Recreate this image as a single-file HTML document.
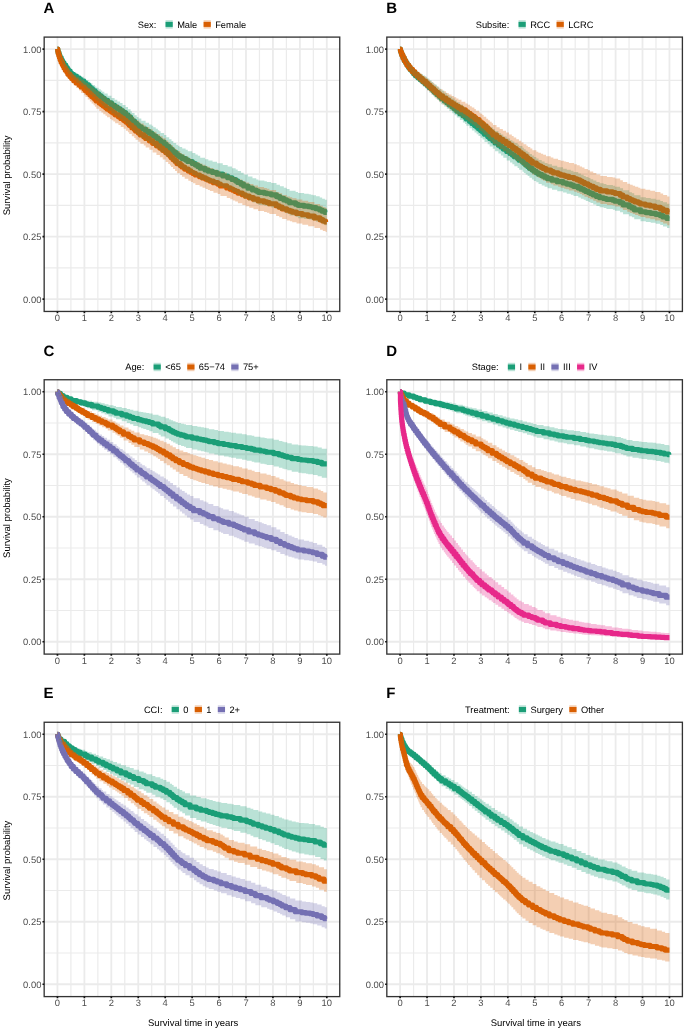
<!DOCTYPE html>
<html><head><meta charset="utf-8"><title>Kaplan-Meier survival curves</title>
<style>html,body{margin:0;padding:0;background:#fff;}svg{display:block;}text{font-family:"Liberation Sans",sans-serif;-webkit-font-smoothing:antialiased;text-rendering:geometricPrecision;}svg{will-change:transform;}</style></head><body>
<svg width="685" height="1031" viewBox="0 0 685 1031">
<rect x="0" y="0" width="685" height="1031" fill="#fff"/>
<g>
<clipPath id="clipA"><rect x="43.98" y="36.60" width="296.28" height="275.00"/></clipPath>
<path d="M70.92,36.60V311.60M97.85,36.60V311.60M124.79,36.60V311.60M151.72,36.60V311.60M178.66,36.60V311.60M205.59,36.60V311.60M232.53,36.60V311.60M259.46,36.60V311.60M286.40,36.60V311.60M313.33,36.60V311.60M43.98,267.85H340.27M43.98,205.35H340.27M43.98,142.85H340.27M43.98,80.35H340.27" stroke="#EBEBEB" stroke-width="1.2" fill="none"/>
<path d="M57.45,36.60V311.60M84.39,36.60V311.60M111.32,36.60V311.60M138.25,36.60V311.60M165.19,36.60V311.60M192.12,36.60V311.60M219.06,36.60V311.60M246.00,36.60V311.60M272.93,36.60V311.60M299.87,36.60V311.60M326.80,36.60V311.60M43.98,299.10H340.27M43.98,236.60H340.27M43.98,174.10H340.27M43.98,111.60H340.27M43.98,49.10H340.27" stroke="#EBEBEB" stroke-width="1.8" fill="none"/>
<g clip-path="url(#clipA)">
<path d="M57.45,49.10H57.77V50.69H58.15V52.54H59.01V54.55H59.60V55.84H60.04V57.61H61.17V59.59H61.98V61.10H62.78V62.81H63.97V65.17H65.80V67.61H67.31V69.36H68.39V71.14H70.22V72.72H71.35V74.21H73.50V76.19H76.41V78.16H79.32V79.62H80.94V81.15H83.90V82.98H85.84V84.90H88.53V86.81H90.26V88.52H92.41V90.57H94.89V92.24H96.29V93.80H98.66V95.56H100.76V96.93H102.22V98.27H104.32V100.28H107.66V102.86H111.48V105.28H114.61V107.15H117.30V108.89H120.10V110.59H122.52V112.52H125.54V114.78H128.02V117.18H130.61V119.09H131.84V121.07H134.54V123.41H136.75V125.10H138.47V126.78H141.33V129.04H145.58V131.30H148.98V133.17H151.67V134.61H153.23V136.07H155.76V137.79H157.86V139.13H159.26V140.22H160.66V142.12H164.11V144.37H166.32V146.52H169.23V148.83H171.49V150.67H173.32V152.69H176.18V154.51H177.96V155.67H179.57V156.93H182.16V158.55H185.61V159.93H187.76V161.54H192.29V163.51H195.36V165.03H197.78V166.39H200.21V168.29H205.05V170.02H208.34V171.25H212.54V172.53H217.07V174.14H222.78V175.98H227.68V177.73H232.04V179.46H235.65V180.94H237.70V182.48H241.04V184.18H243.62V186.02H248.04V188.15H252.46V190.02H256.23V191.17H258.39V192.33H264.36V193.13H266.84V193.72H271.21V194.87H276.49V196.61H279.93V198.35H283.81V199.88H286.67V201.02H289.52V202.78H295.61V204.28H298.09V205.36H304.12V206.18H308.70V206.66H310.85V207.03H312.85V207.63H316.03V208.73H319.69V209.98H322.17V211.18H324.86V212.34H326.80" stroke="#1B9E77" stroke-width="5.15" fill="none" stroke-linejoin="round" stroke-linecap="butt"/>
<path d="M57.45,49.10H57.77V51.16H58.15V53.14H58.80V55.46H59.44V57.61H60.14V59.86H61.11V62.37H62.30V64.46H63.16V65.92H63.86V67.79H65.32V70.29H66.98V72.20H67.90V74.17H69.89V76.45H71.67V78.51H73.77V80.66H76.20V82.98H79.16V84.98H81.10V87.02H84.06V88.94H85.46V90.68H87.78V92.79H89.88V94.66H91.66V96.43H93.60V97.94H94.89V99.16H96.29V101.03H99.25V103.09H101.41V104.61H103.24V106.11H105.45V107.50H107.06V109.09H109.92V110.68H111.54V111.88H113.31V113.11H115.14V114.80H118.43V116.65H120.75V118.43H123.60V120.33H125.92V122.08H127.91V123.54H129.26V125.33H131.84V127.64H134.27V129.32H135.56V131.09H138.42V132.97H140.41V134.89H143.80V136.67H145.69V138.50H149.35V140.84H152.64V143.32H156.46V145.83H159.86V148.08H162.71V150.30H165.67V152.61H168.21V154.60H169.93V155.98H171.01V157.51H173.00V159.51H175.05V161.36H176.93V163.56H180.27V165.44H182.00V166.99H184.69V169.06H188.30V170.91H190.83V172.23H192.99V173.44H195.41V175.04H199.61V176.64H202.52V177.92H205.54V179.06H207.80V179.98H209.90V181.12H213.40V182.68H217.66V184.09H220.41V185.93H226.76V187.93H230.26V189.18H232.80V190.24H235.22V191.41H237.91V193.05H242.33V194.74H245.46V196.14H249.28V197.64H253.43V199.17H258.06V200.80H264.04V201.89H266.90V202.52H269.37V203.79H276.11V205.75H279.23V207.16H282.14V208.84H286.72V210.26H289.95V211.14H292.22V212.12H296.53V213.49H302.34V214.77H308.16V216.05H314.41V217.92H320.07V219.69H322.81V221.01H325.56V222.02H326.80" stroke="#D95F02" stroke-width="5.15" fill="none" stroke-linejoin="round" stroke-linecap="butt"/>
<path d="M57.45,49.10H57.77V50.58H58.15V52.28H59.01V54.14H59.60V55.32H60.04V56.91H61.17V58.67H61.98V60.00H62.78V61.49H63.97V63.51H65.80V65.58H67.31V67.03H68.39V68.49H70.22V69.73H71.35V71.02H73.50V72.72H76.41V74.36H79.32V75.55H80.94V76.83H83.90V78.38H85.84V80.03H88.53V81.69H90.26V83.18H92.41V84.96H94.89V86.41H96.29V87.75H98.66V89.33H100.76V90.56H102.22V91.77H104.32V93.57H107.66V95.87H111.48V98.08H114.61V99.84H117.30V101.47H120.10V103.08H122.52V104.90H125.54V107.04H128.02V109.35H130.61V111.19H131.84V113.08H134.54V115.33H136.75V116.94H138.47V118.53H141.33V120.65H145.58V122.75H148.98V124.50H151.67V125.85H153.23V127.24H155.76V128.86H157.86V130.13H159.26V131.16H160.66V132.97H164.11V135.10H166.32V137.15H169.23V139.35H171.49V141.11H173.32V143.03H176.18V144.75H177.96V145.84H179.57V147.02H182.16V148.52H185.61V149.78H187.76V151.25H192.29V153.09H195.36V154.56H197.78V155.86H200.21V157.69H205.05V159.33H208.34V160.48H212.54V161.67H217.07V163.17H222.78V164.90H227.68V166.54H232.04V168.19H235.65V169.60H237.70V171.08H241.04V172.71H243.62V174.47H248.04V176.55H252.46V178.36H256.23V179.48H258.39V180.58H264.36V181.33H266.84V181.89H271.21V182.98H276.49V184.67H279.93V186.35H283.81V187.84H286.67V188.94H289.52V190.64H295.61V192.09H298.09V193.11H304.12V193.87H308.70V194.31H310.85V194.65H312.85V195.22H316.03V196.28H319.69V197.48H322.17V198.64H324.86V199.77H326.80V225.35H324.86V224.17H322.17V222.96H319.69V221.70H316.03V220.58H312.85V219.96H310.85V219.58H308.70V219.07H304.12V218.20H298.09V217.10H295.61V215.57H289.52V213.77H286.67V212.62H283.81V211.07H279.93V209.31H276.49V207.54H271.21V206.35H266.84V205.73H264.36V204.89H258.39V203.71H256.23V202.54H252.46V200.64H248.04V198.48H243.62V196.57H241.04V194.82H237.70V193.25H235.65V191.72H232.04V189.91H227.68V188.08H222.78V186.15H217.07V184.43H212.54V183.08H208.34V181.77H205.05V179.97H200.21V178.00H197.78V176.60H195.36V175.02H192.29V172.95H187.76V171.21H185.61V169.72H182.16V167.98H179.57V166.63H177.96V165.40H176.18V163.50H173.32V161.38H171.49V159.47H169.23V157.06H166.32V154.80H164.11V152.44H160.66V150.44H159.26V149.30H157.86V147.89H155.76V146.07H153.23V144.53H151.67V143.00H148.98V141.01H145.58V138.60H141.33V136.19H138.47V134.41H136.75V132.65H134.54V130.20H131.84V128.15H130.61V126.15H128.02V123.64H125.54V121.28H122.52V119.23H120.10V117.42H117.30V115.57H114.61V113.57H111.48V110.94H107.66V108.05H104.32V105.81H102.22V104.31H100.76V102.79H98.66V100.83H96.29V99.02H94.89V97.10H92.41V94.76H90.26V92.79H88.53V90.59H85.84V88.38H83.90V86.23H80.94V84.40H79.32V82.64H76.41V80.29H73.50V77.98H71.35V76.26H70.22V74.29H68.39V72.12H67.31V70.04H65.80V67.15H63.97V64.39H62.78V62.41H61.98V60.69H61.17V58.45H60.04V56.48H59.60V55.05H59.01V52.84H58.15V50.83H57.77V49.14H57.45Z" fill="#1B9E77" fill-opacity="0.3" stroke="none"/>
<path d="M57.45,49.10H57.77V50.98H58.15V52.77H58.80V54.86H59.44V56.78H60.14V58.72H61.11V60.85H62.30V62.57H63.16V63.75H63.86V65.23H65.32V67.17H66.98V68.61H67.90V70.05H69.89V71.65H71.67V73.29H73.77V74.97H76.20V76.73H79.16V78.23H81.10V79.76H84.06V81.25H85.46V82.68H87.78V84.43H89.88V85.98H91.66V87.45H93.60V88.69H94.89V89.69H96.29V91.21H99.25V93.13H101.41V94.56H103.24V95.96H105.45V97.26H107.06V98.74H109.92V100.22H111.54V101.37H113.31V102.55H115.14V104.18H118.43V105.97H120.75V107.68H123.60V109.52H125.92V111.21H127.91V112.63H129.26V114.37H131.84V116.62H134.27V118.25H135.56V119.97H138.42V121.78H140.41V123.61H143.80V125.31H145.69V127.05H149.35V129.28H152.64V131.65H156.46V134.05H159.86V136.20H162.71V138.32H165.67V140.54H168.21V142.46H169.93V143.79H171.01V145.27H173.00V147.20H175.05V148.98H176.93V151.10H180.27V152.89H182.00V154.37H184.69V156.33H188.30V158.08H190.83V159.32H192.99V160.49H195.41V162.04H199.61V163.59H202.52V164.83H205.54V165.93H207.80V166.82H209.90V167.92H213.40V169.41H217.66V170.77H220.41V172.55H226.76V174.47H230.26V175.67H232.80V176.70H235.22V177.82H237.91V179.41H242.33V181.03H245.46V182.39H249.28V183.88H253.43V185.40H258.06V187.02H264.04V188.09H266.90V188.72H269.37V189.98H276.11V191.92H279.23V193.31H282.14V194.98H286.72V196.38H289.95V197.25H292.22V198.21H296.53V199.57H302.34V200.83H308.16V202.09H314.41V203.94H320.07V205.68H322.81V206.98H325.56V207.98H326.80V232.06H325.56V231.05H322.81V229.74H320.07V227.99H314.41V226.13H308.16V224.86H302.34V223.59H296.53V222.23H292.22V221.26H289.95V220.39H286.72V218.98H282.14V217.31H279.23V215.90H276.11V213.96H269.37V212.69H266.90V212.07H264.04V210.98H258.06V209.37H253.43V207.84H249.28V206.34H245.46V204.93H242.33V203.23H237.91V201.56H235.22V200.38H232.80V199.30H230.26V198.03H226.76V196.00H220.41V194.12H217.66V192.69H213.40V191.11H209.90V189.94H207.80V189.01H205.54V187.85H202.52V186.55H199.61V184.92H195.41V183.30H192.99V182.08H190.83V180.71H188.30V178.79H184.69V176.66H182.00V175.07H180.27V173.14H176.93V170.89H175.05V169.00H173.00V166.97H171.01V165.41H169.93V164.00H168.21V161.96H165.67V159.60H162.71V157.32H159.86V155.01H156.46V152.42H152.64V149.87H149.35V147.46H145.69V145.57H143.80V143.73H140.41V141.76H138.42V139.83H135.56V138.02H134.27V136.32H131.84V133.96H129.26V132.14H127.91V130.65H125.92V128.87H123.60V126.92H120.75V125.10H118.43V123.20H115.14V121.47H113.31V120.21H111.54V118.97H109.92V117.30H107.06V115.63H105.45V114.18H103.24V112.61H101.41V111.01H99.25V108.86H96.29V106.71H94.89V105.33H93.60V103.62H91.66V101.61H89.88V99.50H87.78V97.12H85.46V95.15H84.06V92.88H81.10V90.45H79.16V88.05H76.20V85.29H73.77V82.77H71.67V80.37H69.89V77.54H67.90V75.15H66.98V72.86H65.32V69.90H63.86V67.71H63.16V66.03H62.30V63.63H61.11V60.80H60.14V58.31H59.44V55.96H58.80V53.44H58.15V51.31H57.77V49.15H57.45Z" fill="#D95F02" fill-opacity="0.3" stroke="none"/>
</g>
<rect x="44.17" y="37.10" width="295.58" height="274.35" fill="none" stroke="#333333" stroke-width="1.33"/>
<path d="M57.45,311.45V313.15M84.39,311.45V313.15M111.32,311.45V313.15M138.25,311.45V313.15M165.19,311.45V313.15M192.12,311.45V313.15M219.06,311.45V313.15M246.00,311.45V313.15M272.93,311.45V313.15M299.87,311.45V313.15M326.80,311.45V313.15M44.17,299.10H42.47M44.17,236.60H42.47M44.17,174.10H42.47M44.17,111.60H42.47M44.17,49.10H42.47" stroke="#111111" stroke-width="1.7" fill="none"/>
<text x="57.45" y="320.85" font-size="9.40" fill="#4D4D4D" text-anchor="middle">0</text>
<text x="84.39" y="320.85" font-size="9.40" fill="#4D4D4D" text-anchor="middle">1</text>
<text x="111.32" y="320.85" font-size="9.40" fill="#4D4D4D" text-anchor="middle">2</text>
<text x="138.25" y="320.85" font-size="9.40" fill="#4D4D4D" text-anchor="middle">3</text>
<text x="165.19" y="320.85" font-size="9.40" fill="#4D4D4D" text-anchor="middle">4</text>
<text x="192.12" y="320.85" font-size="9.40" fill="#4D4D4D" text-anchor="middle">5</text>
<text x="219.06" y="320.85" font-size="9.40" fill="#4D4D4D" text-anchor="middle">6</text>
<text x="246.00" y="320.85" font-size="9.40" fill="#4D4D4D" text-anchor="middle">7</text>
<text x="272.93" y="320.85" font-size="9.40" fill="#4D4D4D" text-anchor="middle">8</text>
<text x="299.87" y="320.85" font-size="9.40" fill="#4D4D4D" text-anchor="middle">9</text>
<text x="326.80" y="320.85" font-size="9.40" fill="#4D4D4D" text-anchor="middle">10</text>
<text x="41.37" y="302.70" font-size="9.40" fill="#4D4D4D" text-anchor="end">0.00</text>
<text x="41.37" y="240.20" font-size="9.40" fill="#4D4D4D" text-anchor="end">0.25</text>
<text x="41.37" y="177.70" font-size="9.40" fill="#4D4D4D" text-anchor="end">0.50</text>
<text x="41.37" y="115.20" font-size="9.40" fill="#4D4D4D" text-anchor="end">0.75</text>
<text x="41.37" y="52.70" font-size="9.40" fill="#4D4D4D" text-anchor="end">1.00</text>
<text x="10.17" y="175.38" font-size="9.50" fill="#000" text-anchor="middle" transform="rotate(-90 10.17 175.38)">Survival probability</text>
<text x="43.50" y="12.90" font-size="15" font-weight="bold" fill="#000">A</text>
<text x="137.72" y="27.60" font-size="9.30" fill="#000">Sex:</text>
<rect x="165.53" y="20.20" width="7.20" height="8.40" fill="#1B9E77" fill-opacity="0.3"/>
<rect x="165.53" y="21.90" width="7.20" height="5.00" fill="#1B9E77"/>
<text x="177.13" y="27.60" font-size="9.30" fill="#000">Male</text>
<rect x="203.59" y="20.20" width="7.20" height="8.40" fill="#D95F02" fill-opacity="0.3"/>
<rect x="203.59" y="21.90" width="7.20" height="5.00" fill="#D95F02"/>
<text x="215.19" y="27.60" font-size="9.30" fill="#000">Female</text>
</g>
<g>
<clipPath id="clipB"><rect x="386.63" y="36.60" width="296.29" height="275.00"/></clipPath>
<path d="M413.57,36.60V311.60M440.50,36.60V311.60M467.44,36.60V311.60M494.37,36.60V311.60M521.31,36.60V311.60M548.24,36.60V311.60M575.18,36.60V311.60M602.11,36.60V311.60M629.05,36.60V311.60M655.98,36.60V311.60M386.63,267.85H682.92M386.63,205.35H682.92M386.63,142.85H682.92M386.63,80.35H682.92" stroke="#EBEBEB" stroke-width="1.2" fill="none"/>
<path d="M400.10,36.60V311.60M427.03,36.60V311.60M453.97,36.60V311.60M480.90,36.60V311.60M507.84,36.60V311.60M534.77,36.60V311.60M561.71,36.60V311.60M588.64,36.60V311.60M615.58,36.60V311.60M642.51,36.60V311.60M669.45,36.60V311.60M386.63,299.10H682.92M386.63,236.60H682.92M386.63,174.10H682.92M386.63,111.60H682.92M386.63,49.10H682.92" stroke="#EBEBEB" stroke-width="1.8" fill="none"/>
<g clip-path="url(#clipB)">
<path d="M400.10,49.10H400.42V50.41H400.69V51.46H401.18V52.77H401.66V54.48H402.52V56.28H403.22V58.19H404.36V60.70H405.86V62.91H406.94V65.06H408.61V67.41H410.17V69.51H411.74V71.07H412.71V72.19H413.68V73.67H415.51V75.75H417.98V77.86H420.36V79.84H422.83V81.68H424.93V83.43H427.03V85.34H429.24V87.38H431.51V89.10H432.96V90.45H434.42V92.29H436.95V94.44H439.16V96.34H441.26V98.49H444.22V100.80H446.86V102.87H449.34V105.03H452.25V107.12H454.51V108.98H456.83V111.16H459.84V113.63H462.91V115.79H465.12V117.22H466.41V119.02H469.48V121.30H471.91V123.42H474.55V125.41H476.65V127.05H478.48V128.70H480.58V130.39H482.52V132.05H484.51V134.25H487.69V136.45H489.69V138.58H492.81V140.76H495.07V142.94H498.41V145.15H500.94V146.96H503.31V149.05H506.71V151.47H509.99V153.47H512.37V154.98H514.36V156.79H517.59V158.47H519.15V160.24H522.49V162.05H523.89V163.34H525.67V164.90H527.66V166.47H529.44V168.18H531.92V169.84H533.86V171.28H536.28V172.71H538.55V174.27H541.72V175.87H544.63V177.23H547.54V178.64H551.96V180.13H557.24V181.65H563.06V183.01H566.72V184.10H570.87V185.10H573.51V186.36H578.25V187.89H580.89V189.14H583.69V190.29H585.74V191.41H588.48V192.47H590.48V193.57H593.22V194.98H596.40V196.41H599.63V197.72H603.67V198.54H606.42V199.37H612.89V200.20H615.04V201.21H620.05V202.79H623.07V204.83H629.16V206.73H631.90V207.88H634.22V209.84H640.52V211.75H645.85V212.60H650.70V213.30H655.71V214.37H660.24V215.59H662.99V216.99H667.03V218.50H669.45" stroke="#1B9E77" stroke-width="5.15" fill="none" stroke-linejoin="round" stroke-linecap="butt"/>
<path d="M400.10,49.10H400.42V50.41H400.69V51.46H401.18V52.91H401.77V55.06H402.90V57.65H404.14V60.21H405.49V61.98H406.13V63.28H407.10V65.27H408.93V67.18H410.12V69.24H412.54V71.68H414.75V74.02H417.28V76.14H419.39V78.07H421.70V79.64H423.10V81.42H425.90V83.39H427.68V85.09H429.73V86.78H431.40V88.61H433.77V90.53H435.65V92.50H438.29V94.15H439.64V95.82H442.60V98.07H445.94V100.14H448.74V101.96H451.60V103.59H453.92V105.03H456.23V106.37H458.44V107.87H461.46V109.86H465.39V111.77H467.71V113.31H470.02V114.72H471.80V116.27H474.33V117.77H475.84V119.59H479.07V121.39H480.37V122.73H482.36V124.16H483.65V125.96H486.24V128.11H488.12V129.83H489.79V131.50H491.68V132.94H493.03V134.91H496.53V137.28H499.71V139.35H502.88V141.36H506.06V143.38H508.97V145.40H511.83V147.08H513.66V148.69H516.24V150.62H518.94V152.48H521.31V154.17H523.52V156.14H526.37V157.86H527.88V159.39H530.30V161.06H532.35V163.10H536.39V164.85H538.33V166.07H540.92V167.30H543.18V168.52H546.03V170.16H550.72V171.59H553.36V172.91H558.10V174.11H560.63V175.06H564.13V175.82H566.13V176.43H568.87V177.47H574.15V178.72H576.90V179.86H579.76V181.06H582.02V182.24H584.50V183.70H587.89V184.98H589.99V186.26H593.28V187.80H596.35V189.37H600.33V190.93H606.96V191.84H612.62V192.49H615.26V193.51H620.21V195.19H622.85V196.97H627.22V198.69H630.12V199.82H632.71V200.83H635.13V201.91H638.26V202.85H640.36V203.95H645.42V205.06H650.27V206.01H655.07V207.41H660.45V208.94H663.15V210.44H667.19V212.01H669.45" stroke="#D95F02" stroke-width="5.15" fill="none" stroke-linejoin="round" stroke-linecap="butt"/>
<path d="M400.10,49.10H400.42V50.27H400.69V51.21H401.18V52.37H401.66V53.88H402.52V55.44H403.22V57.08H404.36V59.19H405.86V61.01H406.94V62.74H408.61V64.60H410.17V66.22H411.74V67.40H412.71V68.22H413.68V69.38H415.51V71.01H417.98V72.63H420.36V74.11H422.83V75.48H424.93V76.79H427.03V78.41H429.24V80.31H431.51V81.91H432.96V83.16H434.42V84.87H436.95V86.87H439.16V88.63H441.26V90.61H444.22V92.73H446.86V94.63H449.34V96.61H452.25V98.53H454.51V100.25H456.83V102.24H459.84V104.51H462.91V106.49H465.12V107.81H466.41V109.46H469.48V111.56H471.91V113.51H474.55V115.33H476.65V116.85H478.48V118.36H480.58V119.90H482.52V121.38H484.51V123.35H487.69V125.31H489.69V127.21H492.81V129.14H495.07V131.06H498.41V133.00H500.94V134.58H503.31V136.41H506.71V138.51H509.99V140.25H512.37V141.56H514.36V143.12H517.59V144.58H519.15V146.11H522.49V147.86H523.89V149.14H525.67V150.70H527.66V152.26H529.44V153.96H531.92V155.61H533.86V157.05H536.28V158.46H538.55V160.01H541.72V161.60H544.63V162.95H547.54V164.36H551.96V165.84H557.24V167.34H563.06V168.69H566.72V169.77H570.87V170.77H573.51V172.01H578.25V173.53H580.89V174.78H583.69V175.92H585.74V177.03H588.48V178.08H590.48V179.17H593.22V180.57H596.40V181.98H599.63V183.28H603.67V184.10H606.42V184.91H612.89V185.73H615.04V186.73H620.05V188.30H623.07V190.32H629.16V192.19H631.90V193.33H634.22V195.26H640.52V197.15H645.85V197.99H650.70V198.68H655.71V199.74H660.24V200.94H662.99V202.32H667.03V203.80H669.45V227.90H667.03V226.41H662.99V225.02H660.24V223.81H655.71V222.74H650.70V222.04H645.85V221.20H640.52V219.30H634.22V217.35H631.90V216.21H629.16V214.32H623.07V212.29H620.05V210.71H615.04V209.71H612.89V208.88H606.42V208.06H603.67V207.24H599.63V205.94H596.40V204.52H593.22V203.11H590.48V202.02H588.48V200.96H585.74V199.85H583.69V198.70H580.89V197.45H578.25V195.93H573.51V194.68H570.87V193.68H566.72V192.59H563.06V191.24H557.24V189.72H551.96V188.24H547.54V186.83H544.63V185.48H541.72V183.88H538.55V182.32H536.28V180.90H533.86V179.46H531.92V177.81H529.44V176.10H527.66V174.54H525.67V172.98H523.89V171.69H522.49V169.86H519.15V167.96H517.59V166.14H514.36V164.18H512.37V162.55H509.99V160.39H506.71V157.78H503.31V155.52H500.94V153.57H498.41V151.19H495.07V148.85H492.81V146.52H489.69V144.23H487.69V141.89H484.51V139.54H482.52V137.77H480.58V135.98H478.48V134.24H476.65V132.51H474.55V130.42H471.91V128.19H469.48V125.79H466.41V123.90H465.12V122.38H462.91V120.11H459.84V117.50H456.83V115.21H454.51V113.24H452.25V111.04H449.34V108.75H446.86V106.57H444.22V104.14H441.26V101.88H439.16V99.88H436.95V97.62H434.42V95.69H432.96V94.28H431.51V92.48H429.24V90.33H427.03V88.22H424.93V86.17H422.83V83.99H420.36V81.66H417.98V79.19H415.51V76.80H413.68V75.08H412.71V73.76H411.74V71.91H410.17V69.47H408.61V66.76H406.94V64.31H405.86V61.81H404.36V59.01H403.22V56.89H402.52V54.92H401.66V53.06H401.18V51.65H400.69V50.51H400.42V49.14H400.10Z" fill="#1B9E77" fill-opacity="0.3" stroke="none"/>
<path d="M400.10,49.10H400.42V50.29H400.69V51.24H401.18V52.55H401.77V54.48H402.90V56.76H404.14V58.98H405.49V60.49H406.13V61.58H407.10V63.20H408.93V64.72H410.12V66.30H412.54V68.14H414.75V70.13H417.28V71.90H419.39V73.48H421.70V74.78H423.10V76.23H425.90V77.85H427.68V79.39H429.73V80.93H431.40V82.62H433.77V84.37H435.65V86.17H438.29V87.66H439.64V89.16H442.60V91.18H445.94V93.00H448.74V94.61H451.60V96.04H453.92V97.32H456.23V98.53H458.44V99.87H461.46V101.67H465.39V103.39H467.71V104.81H470.02V106.15H471.80V107.61H474.33V109.03H475.84V110.76H479.07V112.47H480.37V113.73H482.36V115.05H483.65V116.72H486.24V118.72H488.12V120.32H489.79V121.87H491.68V123.21H493.03V125.01H496.53V127.16H499.71V129.01H502.88V130.82H506.06V132.62H508.97V134.45H511.83V135.97H513.66V137.43H516.24V139.18H518.94V140.87H521.31V142.39H523.52V144.14H526.37V145.68H527.88V147.05H530.30V148.53H532.35V150.32H536.39V151.81H538.33V152.84H540.92V153.87H543.18V154.87H546.03V156.20H550.72V157.55H553.36V158.78H558.10V159.90H560.63V160.78H564.13V161.48H566.13V162.03H568.87V162.99H574.15V164.16H576.90V165.27H579.76V166.44H582.02V167.60H584.50V169.03H587.89V170.29H589.99V171.53H593.28V173.05H596.35V174.58H600.33V176.10H606.96V176.96H612.62V177.58H615.26V178.57H620.21V180.20H622.85V181.95H627.22V183.63H630.12V184.73H632.71V185.71H635.13V186.77H638.26V187.68H640.36V188.74H645.42V189.80H650.27V190.72H655.07V192.06H660.45V193.55H663.15V195.01H667.19V196.53H669.45V225.15H667.19V223.59H663.15V222.08H660.45V220.55H655.07V219.15H650.27V218.18H645.42V217.07H640.36V215.96H638.26V215.02H635.13V213.93H632.71V212.92H630.12V211.79H627.22V210.07H622.85V208.28H620.21V206.60H615.26V205.57H612.62V204.91H606.96V203.98H600.33V202.40H596.35V200.83H593.28V199.28H589.99V198.00H587.89V196.72H584.50V195.25H582.02V194.06H579.76V192.86H576.90V191.72H574.15V190.41H568.87V189.31H566.13V188.66H564.13V187.86H560.63V186.87H558.10V185.61H553.36V184.24H550.72V182.75H546.03V180.87H543.18V179.49H540.92V178.10H538.33V176.73H536.39V174.79H532.35V172.55H530.30V170.73H527.88V169.07H526.37V167.20H523.52V165.07H521.31V163.24H518.94V161.24H516.24V159.16H513.66V157.43H511.83V155.62H508.97V153.43H506.06V151.25H502.88V149.05H499.71V146.80H496.53V144.24H493.03V142.14H491.68V140.60H489.79V138.83H488.12V137.01H486.24V134.73H483.65V132.82H482.36V131.29H480.37V129.88H479.07V128.01H475.84V126.11H474.33V124.54H471.80V122.91H470.02V121.43H467.71V119.80H465.39V117.72H461.46V115.54H458.44V113.91H456.23V112.45H453.92V110.86H451.60V109.04H448.74V107.02H445.94V104.74H442.60V102.26H439.64V100.44H438.29V98.64H435.65V96.51H433.77V94.44H431.40V92.46H429.73V90.64H427.68V88.78H425.90V86.48H423.10V84.40H421.70V82.56H419.39V80.31H417.28V77.85H414.75V75.17H412.54V72.14H410.12V69.62H408.93V67.31H407.10V64.97H406.13V63.46H405.49V61.43H404.14V58.54H402.90V55.64H401.77V53.27H401.18V51.68H400.69V50.53H400.42V49.14H400.10Z" fill="#D95F02" fill-opacity="0.3" stroke="none"/>
</g>
<rect x="386.82" y="37.10" width="295.58" height="274.35" fill="none" stroke="#333333" stroke-width="1.33"/>
<path d="M400.10,311.45V313.15M427.03,311.45V313.15M453.97,311.45V313.15M480.90,311.45V313.15M507.84,311.45V313.15M534.77,311.45V313.15M561.71,311.45V313.15M588.64,311.45V313.15M615.58,311.45V313.15M642.51,311.45V313.15M669.45,311.45V313.15M386.82,299.10H385.12M386.82,236.60H385.12M386.82,174.10H385.12M386.82,111.60H385.12M386.82,49.10H385.12" stroke="#111111" stroke-width="1.7" fill="none"/>
<text x="400.10" y="320.85" font-size="9.40" fill="#4D4D4D" text-anchor="middle">0</text>
<text x="427.03" y="320.85" font-size="9.40" fill="#4D4D4D" text-anchor="middle">1</text>
<text x="453.97" y="320.85" font-size="9.40" fill="#4D4D4D" text-anchor="middle">2</text>
<text x="480.90" y="320.85" font-size="9.40" fill="#4D4D4D" text-anchor="middle">3</text>
<text x="507.84" y="320.85" font-size="9.40" fill="#4D4D4D" text-anchor="middle">4</text>
<text x="534.77" y="320.85" font-size="9.40" fill="#4D4D4D" text-anchor="middle">5</text>
<text x="561.71" y="320.85" font-size="9.40" fill="#4D4D4D" text-anchor="middle">6</text>
<text x="588.64" y="320.85" font-size="9.40" fill="#4D4D4D" text-anchor="middle">7</text>
<text x="615.58" y="320.85" font-size="9.40" fill="#4D4D4D" text-anchor="middle">8</text>
<text x="642.51" y="320.85" font-size="9.40" fill="#4D4D4D" text-anchor="middle">9</text>
<text x="669.45" y="320.85" font-size="9.40" fill="#4D4D4D" text-anchor="middle">10</text>
<text x="384.02" y="302.70" font-size="9.40" fill="#4D4D4D" text-anchor="end">0.00</text>
<text x="384.02" y="240.20" font-size="9.40" fill="#4D4D4D" text-anchor="end">0.25</text>
<text x="384.02" y="177.70" font-size="9.40" fill="#4D4D4D" text-anchor="end">0.50</text>
<text x="384.02" y="115.20" font-size="9.40" fill="#4D4D4D" text-anchor="end">0.75</text>
<text x="384.02" y="52.70" font-size="9.40" fill="#4D4D4D" text-anchor="end">1.00</text>
<text x="386.20" y="12.90" font-size="15" font-weight="bold" fill="#000">B</text>
<text x="475.72" y="27.60" font-size="9.30" fill="#000">Subsite:</text>
<rect x="518.53" y="20.20" width="7.20" height="8.40" fill="#1B9E77" fill-opacity="0.3"/>
<rect x="518.53" y="21.90" width="7.20" height="5.00" fill="#1B9E77"/>
<text x="530.13" y="27.60" font-size="9.30" fill="#000">RCC</text>
<rect x="556.58" y="20.20" width="7.20" height="8.40" fill="#D95F02" fill-opacity="0.3"/>
<rect x="556.58" y="21.90" width="7.20" height="5.00" fill="#D95F02"/>
<text x="568.18" y="27.60" font-size="9.30" fill="#000">LCRC</text>
</g>
<g>
<clipPath id="clipC"><rect x="43.98" y="379.25" width="296.28" height="275.00"/></clipPath>
<path d="M70.92,379.25V654.25M97.85,379.25V654.25M124.79,379.25V654.25M151.72,379.25V654.25M178.66,379.25V654.25M205.59,379.25V654.25M232.53,379.25V654.25M259.46,379.25V654.25M286.40,379.25V654.25M313.33,379.25V654.25M43.98,610.50H340.27M43.98,548.00H340.27M43.98,485.50H340.27M43.98,423.00H340.27" stroke="#EBEBEB" stroke-width="1.2" fill="none"/>
<path d="M57.45,379.25V654.25M84.39,379.25V654.25M111.32,379.25V654.25M138.25,379.25V654.25M165.19,379.25V654.25M192.12,379.25V654.25M219.06,379.25V654.25M246.00,379.25V654.25M272.93,379.25V654.25M299.87,379.25V654.25M326.80,379.25V654.25M43.98,641.75H340.27M43.98,579.25H340.27M43.98,516.75H340.27M43.98,454.25H340.27M43.98,391.75H340.27" stroke="#EBEBEB" stroke-width="1.8" fill="none"/>
<g clip-path="url(#clipC)">
<path d="M57.45,391.75H57.77V393.40H60.47V395.46H63.32V397.26H67.15V398.87H71.13V400.45H76.68V401.79H80.88V402.87H85.03V403.71H87.24V404.60H92.03V405.98H98.07V407.27H101.19V408.30H104.64V409.48H108.46V410.90H113.53V412.04H116.01V413.24H121.77V414.84H126.78V416.15H130.07V417.21H133.30V418.52H138.31V419.64H141.00V420.28H143.32V420.92H146.28V421.65H149.24V422.52H152.64V424.03H158.56V425.52H160.72V426.89H165.46V428.67H169.07V430.04H171.01V431.08H173.11V432.20H175.53V433.25H177.80V434.26H181.08V435.18H184.04V435.83H185.98V436.80H192.18V438.08H197.35V438.95H200.91V439.60H203.92V440.16H206.45V440.71H208.88V441.62H214.37V442.66H217.98V443.60H223.96V444.50H228.65V445.06H231.07V445.67H235.98V446.56H242.06V447.45H246.64V448.37H251.71V449.18H254.29V450.09H260.38V451.01H264.58V451.50H266.68V452.22H273.58V453.56H278.91V454.86H282.41V455.68H284.35V456.35H287.26V457.28H291.73V458.59H298.25V459.51H301.59V459.98H306.06V460.28H308.21V460.64H313.12V461.37H317.64V462.43H321.79V463.87H326.80" stroke="#1B9E77" stroke-width="5.15" fill="none" stroke-linejoin="round" stroke-linecap="butt"/>
<path d="M57.45,391.75H57.77V392.64H58.31V393.92H59.55V395.86H61.33V397.96H63.27V399.82H65.26V401.62H68.17V403.46H71.13V405.10H73.34V406.69H76.14V408.13H77.92V409.20H79.64V410.58H82.50V412.20H85.19V413.62H87.62V415.45H92.03V417.51H95.64V419.18H98.77V420.71H102.05V422.25H105.61V423.54H107.82V425.17H112.51V427.19H115.47V428.61H117.41V429.91H119.83V431.74H123.55V434.18H128.50V436.30H131.31V437.84H134.27V439.92H139.71V442.02H144.29V443.53H148.01V444.71H150.54V445.84H153.28V447.13H155.92V448.32H157.86V449.47H160.13V451.11H163.68V452.98H166.64V454.91H170.04V456.85H172.68V458.72H175.86V460.69H179.36V462.59H183.29V464.51H187.55V465.93H189.92V467.05H193.26V468.20H196.38V469.04H198.37V469.81H201.39V470.84H205.32V471.94H208.88V473.07H213.13V474.32H217.93V475.56H222.62V476.62H226.71V477.57H230.64V478.34H233.12V479.38H238.94V480.54H242.17V481.72H247.77V483.10H251.81V484.15H254.61V485.42H260.22V487.01H266.57V488.32H270.88V489.59H275.57V491.17H279.45V492.84H283.60V494.10H285.64V495.37H290.65V496.83H294.05V497.97H297.76V498.95H301.53V499.74H306.54V500.58H313.22V501.87H318.07V503.16H320.71V504.23H323.24V505.63H326.80" stroke="#D95F02" stroke-width="5.15" fill="none" stroke-linejoin="round" stroke-linecap="butt"/>
<path d="M57.45,391.75H57.77V393.02H58.04V394.19H58.64V395.61H59.12V397.46H60.09V399.26H60.63V400.71H61.33V402.76H62.41V404.50H62.94V406.55H64.56V409.06H66.34V411.54H68.65V414.09H71.29V416.37H73.50V418.48H76.36V420.34H78.35V422.10H81.10V423.89H83.09V425.34H84.71V427.23H87.46V429.44H89.50V431.50H91.82V433.18H93.06V435.05H95.86V436.87H97.15V438.28H99.25V440.16H101.95V441.97H104.16V443.81H107.06V445.97H110.13V448.31H113.31V450.86H116.65V452.81H118.22V454.22H120.15V456.05H122.74V457.68H124.19V458.84H125.60V460.67H128.67V462.58H130.17V464.13H132.38V466.01H134.70V467.82H136.85V470.01H140.36V471.97H142.19V473.57H144.88V475.09H146.55V476.96H150.32V479.00H152.42V480.53H154.69V481.90H156.36V483.06H158.03V484.41H160.23V486.46H163.84V488.47H165.78V490.03H167.99V491.76H170.20V493.76H173.00V496.25H176.45V498.87H179.84V500.94H182.05V502.75H184.69V504.56H187.06V506.41H190.13V508.33H193.47V510.64H199.88V512.66H203.49V513.99H206.45V515.04H208.39V516.57H213.35V518.78H218.63V520.28H221.00V521.07H223.15V522.34H228.81V524.08H233.87V525.53H236.73V526.59H239.26V527.52H241.42V528.51H244.22V529.93H248.74V531.94H254.72V533.73H258.39V534.97H261.83V535.82H263.83V536.53H266.63V537.64H271.21V539.34H276.38V541.44H280.31V543.50H284.62V545.29H288.39V546.65H291.73V547.73H294.42V548.73H297.82V549.99H304.07V550.97H309.13V551.73H312.90V552.72H317.10V554.41H322.33V556.17H324.97V557.28H326.80" stroke="#7570B3" stroke-width="5.15" fill="none" stroke-linejoin="round" stroke-linecap="butt"/>
<path d="M57.45,391.75H57.77V393.15H60.47V394.80H63.32V396.10H67.15V397.13H71.13V398.16H76.68V399.04H80.88V399.73H85.03V400.27H87.24V400.83H92.03V401.70H98.07V402.58H101.19V403.34H104.64V404.22H108.46V405.28H113.53V406.10H116.01V406.97H121.77V408.12H126.78V409.08H130.07V409.87H133.30V410.84H138.31V411.63H141.00V412.05H143.32V412.46H146.28V412.94H149.24V413.53H152.64V414.63H158.56V415.77H160.72V416.84H165.46V418.29H169.07V419.47H171.01V420.37H173.11V421.33H175.53V422.22H177.80V423.04H181.08V423.75H184.04V424.23H185.98V424.92H192.18V425.93H197.35V426.72H200.91V427.30H203.92V427.81H206.45V428.30H208.88V429.14H214.37V430.08H217.98V430.93H223.96V431.72H228.65V432.21H231.07V432.74H235.98V433.52H242.06V434.31H246.64V435.13H251.71V435.86H254.29V436.68H260.38V437.50H264.58V437.92H266.68V438.55H273.58V439.77H278.91V440.98H282.41V441.74H284.35V442.36H287.26V443.21H291.73V444.41H298.25V445.22H301.59V445.57H306.06V445.78H308.21V446.03H313.12V446.62H317.64V447.55H321.79V448.84H326.80V477.73H321.79V476.18H317.64V475.01H313.12V474.16H308.21V473.71H306.06V473.32H301.59V472.75H298.25V471.75H291.73V470.35H287.26V469.36H284.35V468.65H282.41V467.79H278.91V466.41H273.58V464.97H266.68V464.17H264.58V463.63H260.38V462.62H254.29V461.64H251.71V460.77H246.64V459.77H242.06V458.78H235.98V457.79H231.07V457.13H228.65V456.50H223.96V455.52H217.98V454.49H214.37V453.38H208.88V452.39H206.45V451.81H203.92V451.19H200.91V450.49H197.35V449.54H192.18V448.04H185.98V446.82H184.04V446.02H181.08V444.90H177.80V443.72H175.53V442.53H173.11V441.27H171.01V440.11H169.07V438.57H165.46V436.49H160.72V434.85H158.56V433.04H152.64V431.15H149.24V430.03H146.28V429.06H143.32V428.21H141.00V427.37H138.31V425.95H133.30V424.32H130.07V423.00H126.78V421.37H121.77V419.35H116.01V417.82H113.53V416.39H108.46V414.62H104.64V413.16H101.19V411.87H98.07V410.18H92.03V408.31H87.24V407.10H85.03V405.97H80.88V404.50H76.68V402.71H71.13V400.60H67.15V398.41H63.32V396.12H60.47V393.65H57.77V391.77H57.45Z" fill="#1B9E77" fill-opacity="0.3" stroke="none"/>
<path d="M57.45,391.75H57.77V392.53H58.31V393.65H59.55V395.30H61.33V397.06H63.27V398.55H65.26V399.89H68.17V401.18H71.13V402.47H73.34V403.85H76.14V405.10H77.92V406.03H79.64V407.21H82.50V408.59H85.19V409.79H87.62V411.33H92.03V413.05H95.64V414.44H98.77V415.75H102.05V417.07H105.61V418.18H107.82V419.58H112.51V421.37H115.47V422.63H117.41V423.79H119.83V425.42H123.55V427.58H128.50V429.46H131.31V430.81H134.27V432.62H139.71V434.17H144.29V435.16H148.01V435.94H150.54V436.73H153.28V437.69H155.92V438.59H157.86V439.47H160.13V440.74H163.68V442.19H166.64V443.86H170.04V445.57H172.68V447.19H175.86V448.90H179.36V450.50H183.29V452.09H187.55V453.24H189.92V454.13H193.26V455.23H196.38V456.05H198.37V456.81H201.39V457.82H205.32V458.90H208.88V460.00H213.13V461.22H217.93V462.44H222.62V463.47H226.71V464.40H230.64V465.15H233.12V466.17H238.94V467.30H242.17V468.45H247.77V469.79H251.81V470.80H254.61V472.02H260.22V473.55H266.57V474.80H270.88V476.02H275.57V477.55H279.45V479.17H283.60V480.39H285.64V481.62H290.65V483.03H294.05V484.13H297.76V485.07H301.53V485.98H306.54V486.99H313.22V488.45H318.07V489.85H320.71V490.99H323.24V492.48H326.80V517.61H323.24V516.30H320.71V515.30H318.07V514.11H313.22V512.97H306.54V512.28H301.53V511.60H297.76V510.59H294.05V509.43H290.65V507.93H285.64V506.64H283.60V505.36H279.45V503.67H275.57V502.06H270.88V500.75H266.57V499.40H260.22V497.76H254.61V496.46H251.81V495.39H247.77V493.97H242.17V492.78H238.94V491.60H233.12V490.54H230.64V489.76H226.71V488.80H222.62V487.72H217.93V486.46H213.13V485.20H208.88V484.06H205.32V482.94H201.39V481.90H198.37V481.12H196.38V480.27H193.26V479.08H189.92V477.76H187.55V476.11H183.29V473.92H179.36V471.76H175.86V469.56H172.68V467.49H170.04V465.34H166.64V463.19H163.68V460.95H160.13V458.98H157.86V457.59H155.92V456.14H153.28V454.53H150.54V453.11H148.01V451.57H144.29V449.58H139.71V446.97H134.27V444.63H131.31V442.93H128.50V440.57H123.55V437.87H119.83V435.86H117.41V434.43H115.47V432.86H112.51V430.61H107.82V428.78H105.61V427.31H102.05V425.57H98.77V423.83H95.64V421.88H92.03V419.49H87.62V417.38H85.19V415.75H82.50V413.91H79.64V412.34H77.92V411.12H76.14V409.49H73.34V407.69H71.13V405.71H68.17V403.33H65.26V401.08H63.27V398.86H61.33V396.41H59.55V394.20H58.31V392.75H57.77V391.78H57.45Z" fill="#D95F02" fill-opacity="0.3" stroke="none"/>
<path d="M57.45,391.75H57.77V392.92H58.04V393.99H58.64V395.30H59.12V396.98H60.09V398.61H60.63V399.92H61.33V401.77H62.41V403.34H62.94V405.14H64.56V407.27H66.34V409.29H68.65V411.28H71.29V413.21H73.50V415.09H76.36V416.72H78.35V418.25H81.10V419.82H83.09V421.10H84.71V422.78H87.46V424.76H89.50V426.61H91.82V428.12H93.06V429.80H95.86V431.42H97.15V432.69H99.25V434.43H101.95V436.10H104.16V437.79H107.06V439.77H110.13V441.94H113.31V444.30H116.65V446.11H118.22V447.41H120.15V449.11H122.74V450.62H124.19V451.70H125.60V453.40H128.67V455.17H130.17V456.62H132.38V458.36H134.70V460.04H136.85V462.06H140.36V463.78H142.19V465.18H144.88V466.50H146.55V468.13H150.32V469.91H152.42V471.25H154.69V472.44H156.36V473.45H158.03V474.62H160.23V476.41H163.84V478.17H165.78V479.58H167.99V481.15H170.20V482.97H173.00V485.23H176.45V487.61H179.84V489.48H182.05V491.10H184.69V492.74H187.06V494.39H190.13V496.07H193.47V498.28H199.88V500.22H203.49V501.48H206.45V502.50H208.39V503.96H213.35V506.09H218.63V507.52H221.00V508.27H223.15V509.47H228.81V511.12H233.87V512.50H236.73V513.51H239.26V514.40H241.42V515.34H244.22V516.73H248.74V518.94H254.72V520.92H258.39V522.29H261.83V523.26H263.83V524.06H266.63V525.31H271.21V527.22H276.38V529.59H280.31V531.90H284.62V533.93H288.39V535.50H291.73V536.76H294.42V537.94H297.82V539.48H304.07V540.75H309.13V541.73H312.90V542.92H317.10V544.84H322.33V546.80H324.97V548.01H326.80V565.63H324.97V564.62H322.33V563.03H317.10V561.54H312.90V560.73H309.13V560.16H304.07V559.42H297.82V558.39H294.42V557.56H291.73V556.63H288.39V555.46H284.62V553.88H280.31V552.04H276.38V550.17H271.21V548.66H266.63V547.68H263.83V547.06H261.83V546.30H258.39V545.18H254.72V543.56H248.74V541.75H244.22V540.31H241.42V539.29H239.26V538.33H236.73V537.25H233.87V535.76H228.81V533.95H223.15V532.64H221.00V531.83H218.63V530.29H213.35V528.02H208.39V526.46H206.45V525.38H203.49V524.02H199.88V521.94H193.47V519.56H190.13V517.46H187.06V515.45H184.69V513.49H182.05V511.55H179.84V509.31H176.45V506.49H173.00V503.82H170.20V501.67H167.99V499.81H165.78V498.12H163.84V495.90H160.23V493.62H158.03V492.12H156.36V490.83H154.69V489.31H152.42V487.61H150.32V485.34H146.55V483.26H144.88V481.57H142.19V479.79H140.36V477.62H136.85V475.27H134.70V473.34H132.38V471.34H130.17V469.69H128.67V467.66H125.60V465.71H124.19V464.48H122.74V462.74H120.15V460.79H118.22V459.29H116.65V457.21H113.31V454.48H110.13V451.97H107.06V449.66H104.16V447.68H101.95V445.73H99.25V443.73H97.15V442.17H95.86V440.17H93.06V438.11H91.82V436.27H89.50V434.02H87.46V431.60H84.71V429.51H83.09V427.89H81.10V425.88H78.35V423.91H76.36V421.83H73.50V419.48H71.29V416.86H68.65V413.77H66.34V410.83H64.56V407.95H62.94V405.66H62.41V403.74H61.33V401.50H60.63V399.90H60.09V397.94H59.12V395.93H58.64V394.39H58.04V393.12H57.77V391.79H57.45Z" fill="#7570B3" fill-opacity="0.3" stroke="none"/>
</g>
<rect x="44.17" y="379.75" width="295.58" height="274.35" fill="none" stroke="#333333" stroke-width="1.33"/>
<path d="M57.45,654.10V655.80M84.39,654.10V655.80M111.32,654.10V655.80M138.25,654.10V655.80M165.19,654.10V655.80M192.12,654.10V655.80M219.06,654.10V655.80M246.00,654.10V655.80M272.93,654.10V655.80M299.87,654.10V655.80M326.80,654.10V655.80M44.17,641.75H42.47M44.17,579.25H42.47M44.17,516.75H42.47M44.17,454.25H42.47M44.17,391.75H42.47" stroke="#111111" stroke-width="1.7" fill="none"/>
<text x="57.45" y="663.50" font-size="9.40" fill="#4D4D4D" text-anchor="middle">0</text>
<text x="84.39" y="663.50" font-size="9.40" fill="#4D4D4D" text-anchor="middle">1</text>
<text x="111.32" y="663.50" font-size="9.40" fill="#4D4D4D" text-anchor="middle">2</text>
<text x="138.25" y="663.50" font-size="9.40" fill="#4D4D4D" text-anchor="middle">3</text>
<text x="165.19" y="663.50" font-size="9.40" fill="#4D4D4D" text-anchor="middle">4</text>
<text x="192.12" y="663.50" font-size="9.40" fill="#4D4D4D" text-anchor="middle">5</text>
<text x="219.06" y="663.50" font-size="9.40" fill="#4D4D4D" text-anchor="middle">6</text>
<text x="246.00" y="663.50" font-size="9.40" fill="#4D4D4D" text-anchor="middle">7</text>
<text x="272.93" y="663.50" font-size="9.40" fill="#4D4D4D" text-anchor="middle">8</text>
<text x="299.87" y="663.50" font-size="9.40" fill="#4D4D4D" text-anchor="middle">9</text>
<text x="326.80" y="663.50" font-size="9.40" fill="#4D4D4D" text-anchor="middle">10</text>
<text x="41.37" y="645.35" font-size="9.40" fill="#4D4D4D" text-anchor="end">0.00</text>
<text x="41.37" y="582.85" font-size="9.40" fill="#4D4D4D" text-anchor="end">0.25</text>
<text x="41.37" y="520.35" font-size="9.40" fill="#4D4D4D" text-anchor="end">0.50</text>
<text x="41.37" y="457.85" font-size="9.40" fill="#4D4D4D" text-anchor="end">0.75</text>
<text x="41.37" y="395.35" font-size="9.40" fill="#4D4D4D" text-anchor="end">1.00</text>
<text x="10.17" y="518.02" font-size="9.50" fill="#000" text-anchor="middle" transform="rotate(-90 10.17 518.02)">Survival probability</text>
<text x="43.50" y="355.50" font-size="15" font-weight="bold" fill="#000">C</text>
<text x="125.26" y="370.20" font-size="9.30" fill="#000">Age:</text>
<rect x="153.59" y="362.80" width="7.20" height="8.40" fill="#1B9E77" fill-opacity="0.3"/>
<rect x="153.59" y="364.50" width="7.20" height="5.00" fill="#1B9E77"/>
<text x="165.19" y="370.20" font-size="9.30" fill="#000">&lt;65</text>
<rect x="187.27" y="362.80" width="7.20" height="8.40" fill="#D95F02" fill-opacity="0.3"/>
<rect x="187.27" y="364.50" width="7.20" height="5.00" fill="#D95F02"/>
<text x="198.87" y="370.20" font-size="9.30" fill="#000">65−74</text>
<rect x="231.29" y="362.80" width="7.20" height="8.40" fill="#7570B3" fill-opacity="0.3"/>
<rect x="231.29" y="364.50" width="7.20" height="5.00" fill="#7570B3"/>
<text x="242.89" y="370.20" font-size="9.30" fill="#000">75+</text>
</g>
<g>
<clipPath id="clipD"><rect x="386.63" y="379.25" width="296.29" height="275.00"/></clipPath>
<path d="M413.57,379.25V654.25M440.50,379.25V654.25M467.44,379.25V654.25M494.37,379.25V654.25M521.31,379.25V654.25M548.24,379.25V654.25M575.18,379.25V654.25M602.11,379.25V654.25M629.05,379.25V654.25M655.98,379.25V654.25M386.63,610.50H682.92M386.63,548.00H682.92M386.63,485.50H682.92M386.63,423.00H682.92" stroke="#EBEBEB" stroke-width="1.2" fill="none"/>
<path d="M400.10,379.25V654.25M427.03,379.25V654.25M453.97,379.25V654.25M480.90,379.25V654.25M507.84,379.25V654.25M534.77,379.25V654.25M561.71,379.25V654.25M588.64,379.25V654.25M615.58,379.25V654.25M642.51,379.25V654.25M669.45,379.25V654.25M386.63,641.75H682.92M386.63,579.25H682.92M386.63,516.75H682.92M386.63,454.25H682.92M386.63,391.75H682.92" stroke="#EBEBEB" stroke-width="1.8" fill="none"/>
<g clip-path="url(#clipD)">
<path d="M400.10,391.75H400.42V393.01H404.19V394.74H409.15V396.10H413.68V397.26H416.64V398.31H420.03V399.72H425.37V401.26H430.64V402.52H435.55V403.68H440.61V404.64H443.68V405.52H447.99V406.48H451.76V407.51H456.23V409.01H462.86V410.27H465.07V411.04H468.30V412.03H472.18V413.17H476.60V414.55H482.04V416.12H487.42V417.73H492.81V419.28H497.82V420.76H502.61V422.01H506.17V423.07H510.05V424.17H514.47V425.21H518.18V426.26H522.65V427.48H526.96V428.64H530.73V429.53H533.27V430.29H536.61V431.49H543.56V432.89H549.54V434.06H554.44V434.94H557.83V435.82H563.54V436.56H566.94V437.29H573.94V438.33H580.30V439.47H586.01V440.30H589.08V441.02H594.19V441.75H597.64V442.20H599.69V442.70H603.89V443.24H607.01V443.81H612.35V444.43H615.20V445.30H620.91V446.41H623.28V447.21H626.41V448.33H632.50V449.46H638.69V450.17H641.55V450.73H647.20V451.30H652.70V451.79H656.14V452.39H660.72V453.16H664.33V454.04H668.75V454.66H669.45" stroke="#1B9E77" stroke-width="5.15" fill="none" stroke-linejoin="round" stroke-linecap="butt"/>
<path d="M400.10,391.75H400.42V393.37H401.29V395.43H402.47V397.27H403.33V398.60H404.19V400.61H406.40V403.19H408.99V405.29H412.44V406.97H415.45V408.88H418.31V410.66H420.79V412.37H424.40V413.88H427.25V415.24H429.41V417.11H433.18V419.29H435.76V420.79H437.54V422.21H440.07V424.33H444.70V426.97H449.98V428.97H452.35V430.18H454.45V431.85H458.12V433.63H460.33V435.39H463.88V436.99H465.66V438.25H468.30V439.92H472.02V441.75H475.79V443.98H481.17V445.96H483.22V447.25H485.65V448.64H487.91V450.68H492.33V453.28H496.53V455.33H499.17V457.01H502.13V458.78H505.09V460.24H507.09V461.76H510.37V463.76H514.25V465.43H516.46V466.81H519.26V468.72H523.25V470.57H525.35V472.00H527.72V474.13H532.08V476.27H535.42V478.15H541.08V479.63H543.99V480.53H546.63V481.82H551.74V483.09H554.01V484.30H558.96V485.49H561.23V486.66H566.40V488.10H570.60V489.40H575.39V490.76H581.00V491.67H583.31V492.19H585.52V492.82H588.48V493.71H592.04V495.06H597.10V496.29H599.53V497.42H604.16V498.58H607.45V499.49H610.52V500.85H616.66V502.25H618.70V503.32H622.15V505.12H627.54V507.35H633.84V509.51H639.28V510.86H642.57V511.63H646.18V512.39H652.37V513.06H655.12V513.80H659.43V515.36H666.16V517.12H669.45" stroke="#D95F02" stroke-width="5.15" fill="none" stroke-linejoin="round" stroke-linecap="butt"/>
<path d="M400.10,391.75H400.42V393.74H400.53V394.95H400.91V397.21H401.55V399.02H401.99V400.50H402.69V401.85H403.17V403.63H404.14V406.18H404.73V408.10H405.11V410.14H405.70V412.06H406.03V413.66H406.51V415.20H406.89V416.81H407.64V418.55H408.45V420.22H409.37V422.00H410.55V424.15H412.27V426.29H413.57V428.46H415.18V430.87H416.96V433.25H418.63V435.54H420.30V437.43H421.43V439.06H422.73V441.01H424.40V443.29H426.23V445.57H427.95V447.20H428.81V448.48H430.00V449.88H431.08V451.36H432.42V453.16H434.04V454.88H435.28V456.77H437.22V458.48H438.19V460.06H439.91V461.97H441.47V463.83H443.14V465.54H444.49V467.51H446.64V469.25H447.61V470.48H448.85V472.52H451.33V474.88H453.16V476.43H454.19V478.33H456.66V480.55H458.28V482.09H459.52V483.96H461.78V486.22H463.77V487.98H465.17V489.83H467.38V491.86H469.22V493.28H470.29V494.58H471.91V496.07H473.42V497.67H475.30V499.21H476.70V500.53H478.16V501.85H479.56V503.20H481.07V505.15H483.76V507.00H485.05V508.55H487.10V510.70H489.74V512.85H491.84V514.69H493.89V516.23H495.40V517.61H497.17V519.33H499.65V520.99H501.38V522.46H503.37V524.08H505.42V526.02H508.00V528.36H510.64V530.54H512.42V532.18H513.82V533.49H514.95V535.17H517.11V537.00H518.67V538.64H520.66V540.08H522.17V541.28H523.84V543.19H527.66V545.76H531.92V547.67H534.02V548.98H536.28V550.23H538.22V551.60H540.97V552.91H542.80V553.99H544.90V555.54H548.73V557.76H554.28V559.76H558.10V561.56H563.16V563.41H567.26V564.94H570.92V566.23H573.99V567.39H577.12V568.59H580.62V569.86H584.28V570.87H586.44V572.05H591.12V573.55H595.27V574.57H597.21V575.66H601.84V577.01H605.61V577.99H608.25V579.12H612.99V580.46H616.50V581.70H619.62V582.94H622.42V584.90H628.72V586.97H633.46V588.33H636.80V589.70H642.41V591.06H647.26V591.95H650.70V592.56H653.18V593.56H659.21V595.44H666.11V597.15H669.45" stroke="#7570B3" stroke-width="5.15" fill="none" stroke-linejoin="round" stroke-linecap="butt"/>
<path d="M400.10,391.75H400.42V400.45H400.48V402.19H400.58V404.25H400.69V406.57H400.85V409.60H401.07V411.99H401.18V414.19H401.39V416.48H401.55V418.75H401.82V421.38H402.15V423.78H402.42V425.79H402.69V427.83H403.01V429.89H403.33V431.94H403.71V434.42H404.25V436.34H404.46V437.93H404.89V440.29H405.43V442.75H405.97V444.93H406.46V447.20H407.10V449.84H407.86V452.45H408.56V454.53H409.04V456.19H409.53V457.72H409.96V459.03H410.34V460.56H410.93V462.31H411.47V464.33H412.27V466.62H413.03V468.71H413.73V470.47H414.27V472.33H415.08V474.80H416.10V476.93H416.69V478.96H417.66V481.56H418.74V483.94H419.55V486.31H420.62V488.68H421.49V490.74H422.35V493.08H423.48V495.61H424.50V497.39H424.99V498.87H425.74V500.58H426.39V502.59H427.36V504.62H427.95V506.66H428.87V509.21H429.78V511.31H430.37V513.22H431.18V515.62H432.21V518.05H433.18V520.11H433.93V522.35H435.06V525.02H436.25V527.00H436.84V528.46H437.59V530.25H438.56V532.41H439.80V534.20H440.56V536.07H442.06V538.57H443.84V540.69H445.08V542.19H446.10V543.57H447.24V545.14H448.64V546.93H450.20V548.94H451.98V551.28H454.02V553.88H456.07V556.42H457.96V558.61H459.46V560.61H461.08V562.86H463.02V565.27H465.01V567.19H466.25V568.65H467.55V569.91H468.51V571.47H470.40V573.69H472.66V575.59H474.06V576.93H475.30V578.26H476.76V580.31H479.61V582.63H481.93V584.77H484.73V586.68H486.83V588.17H488.72V589.91H491.63V591.52H493.13V592.92H495.40V594.79H498.14V597.04H501.43V599.25H504.12V601.28H506.92V602.90H508.49V604.41H510.86V606.41H513.39V607.98H514.68V609.29H516.67V610.76H518.61V612.35H521.58V613.70H524.00V615.13H528.80V616.48H531.92V617.61H535.48V618.63H537.41V620.07H542.75V621.54H545.01V622.83H550.34V624.41H556.54V625.61H560.63V626.54H565.86V627.25H568.71V627.84H573.18V628.63H578.84V629.32H581.75V629.74H584.28V630.22H588.48V630.62H590.96V631.00H596.67V631.41H600.60V631.84H605.18V632.58H611.86V633.45H618.44V633.96H622.10V634.39H628.24V634.84H631.63V635.43H638.04V636.05H642.41V636.45H648.66V636.68H650.81V636.87H656.25V637.14H660.83V637.37H664.44V637.61H669.45" stroke="#E7298A" stroke-width="5.15" fill="none" stroke-linejoin="round" stroke-linecap="butt"/>
<path d="M400.10,391.75H400.42V392.69H404.19V393.76H409.15V394.41H413.68V395.14H416.64V395.94H420.03V397.03H425.37V398.21H430.64V399.27H435.55V400.24H440.61V401.06H443.68V401.79H447.99V402.60H451.76V403.47H456.23V404.77H462.86V405.86H465.07V406.52H468.30V407.38H472.18V408.36H476.60V409.55H482.04V410.97H487.42V412.46H492.81V413.90H497.82V415.27H502.61V416.42H506.17V417.40H510.05V418.40H514.47V419.34H518.18V420.30H522.65V421.42H526.96V422.49H530.73V423.30H533.27V423.99H536.61V425.08H543.56V426.33H549.54V427.37H554.44V428.15H557.83V428.93H563.54V429.56H566.94V430.17H573.94V431.06H580.30V432.06H586.01V432.79H589.08V433.41H594.19V434.04H597.64V434.43H599.69V434.86H603.89V435.31H607.01V435.78H612.35V436.31H615.20V437.09H620.91V438.12H623.28V438.86H626.41V439.90H632.50V440.90H638.69V441.52H641.55V442.00H647.20V442.46H652.70V442.87H656.14V443.38H660.72V444.07H664.33V444.88H668.75V445.45H669.45V463.44H668.75V462.78H664.33V461.82H660.72V460.98H656.14V460.31H652.70V459.75H647.20V459.08H641.55V458.44H638.69V457.65H632.50V456.42H626.41V455.21H623.28V454.37H620.91V453.18H615.20V452.23H612.35V451.53H607.01V450.86H603.89V450.25H599.69V449.68H597.64V449.17H594.19V448.35H589.08V447.54H586.01V446.62H580.30V445.35H573.94V444.16H566.94V443.32H563.54V442.49H557.83V441.50H554.44V440.54H549.54V439.25H543.56V437.72H536.61V436.40H533.27V435.58H530.73V434.63H526.96V433.37H522.65V432.06H518.18V430.92H514.47V429.80H510.05V428.61H506.17V427.47H502.61V426.13H497.82V424.54H492.81V422.87H487.42V421.15H482.04V419.43H476.60V417.88H472.18V416.58H468.30V415.47H465.07V414.60H462.86V413.18H456.23V411.47H451.76V410.29H447.99V409.18H443.68V408.18H440.61V407.06H435.55V405.72H430.64V404.28H425.37V402.38H420.03V400.65H416.64V399.37H413.68V397.77H409.15V395.71H404.19V393.34H400.42V391.77H400.10Z" fill="#1B9E77" fill-opacity="0.3" stroke="none"/>
<path d="M400.10,391.75H400.42V393.23H401.29V395.10H402.47V396.75H403.33V397.92H404.19V399.65H406.40V401.78H408.99V403.31H412.44V404.43H415.45V406.06H418.31V407.58H420.79V409.01H424.40V410.21H427.25V411.36H429.41V413.03H433.18V414.98H435.76V416.32H437.54V417.59H440.07V419.46H444.70V421.74H449.98V423.47H452.35V424.52H454.45V425.98H458.12V427.55H460.33V429.11H463.88V430.51H465.66V431.61H468.30V433.05H472.02V434.61H475.79V436.51H481.17V438.28H483.22V439.51H485.65V440.84H487.91V442.78H492.33V445.26H496.53V447.21H499.17V448.82H502.13V450.50H505.09V451.89H507.09V453.34H510.37V455.24H514.25V456.83H516.46V458.14H519.26V459.96H523.25V461.72H525.35V463.09H527.72V465.13H532.08V467.16H535.42V468.91H541.08V470.27H543.99V471.09H546.63V472.27H551.74V473.43H554.01V474.55H558.96V475.63H561.23V476.70H566.40V478.00H570.60V479.18H575.39V480.39H581.00V481.19H583.31V481.64H585.52V482.20H588.48V483.00H592.04V484.22H597.10V485.34H599.53V486.37H604.16V487.42H607.45V488.23H610.52V489.47H616.66V490.77H618.70V491.80H622.15V493.53H627.54V495.66H633.84V497.72H639.28V499.00H642.57V499.71H646.18V500.39H652.37V501.00H655.12V501.68H659.43V503.15H666.16V504.82H669.45V528.31H666.16V526.50H659.43V524.87H655.12V524.09H652.37V523.36H646.18V522.54H642.57V521.74H639.28V520.33H633.84V518.11H627.54V515.81H622.15V513.96H618.70V512.85H616.66V511.39H610.52V509.91H607.45V508.94H604.16V507.68H599.53V506.47H597.10V505.15H592.04V503.70H588.48V502.73H585.52V502.04H583.31V501.46H581.00V500.46H575.39V498.98H570.60V497.57H566.40V496.02H561.23V494.76H558.96V493.49H554.01V492.19H551.74V490.83H546.63V489.44H543.99V488.48H541.08V486.90H535.42V484.91H532.08V482.68H527.72V480.47H525.35V478.98H523.25V477.06H519.26V475.07H516.46V473.63H514.25V471.88H510.37V469.80H507.09V468.21H505.09V466.69H502.13V464.85H499.17V463.10H496.53V460.97H492.33V458.26H487.91V456.15H485.65V454.69H483.22V453.36H481.17V451.18H475.79V448.64H472.02V446.56H468.30V444.68H465.66V443.27H463.88V441.49H460.33V439.53H458.12V437.55H454.45V435.70H452.35V434.33H449.98V432.07H444.70V429.10H440.07V426.73H437.54V425.16H435.76V423.51H433.18V421.12H429.41V419.04H427.25V417.49H424.40V415.69H420.79V413.69H418.31V411.68H415.45V409.50H412.44V407.25H408.99V404.60H406.40V401.58H404.19V399.28H403.33V397.79H402.47V395.76H401.29V393.51H400.42V391.78H400.10Z" fill="#D95F02" fill-opacity="0.3" stroke="none"/>
<path d="M400.10,391.75H400.42V393.63H400.53V394.78H400.91V396.89H401.55V398.55H401.99V399.87H402.69V401.06H403.17V402.64H404.14V404.97H404.73V406.76H405.11V408.66H405.70V410.45H406.03V411.94H406.51V413.36H406.89V414.81H407.64V416.33H408.45V417.76H409.37V419.23H410.55V420.98H412.27V422.69H413.57V424.57H415.18V426.75H416.96V428.91H418.63V430.97H420.30V432.68H421.43V434.14H422.73V435.90H424.40V437.95H426.23V439.99H427.95V441.55H428.81V442.77H430.00V444.11H431.08V445.53H432.42V447.25H434.04V448.89H435.28V450.70H437.22V452.34H438.19V453.84H439.91V455.66H441.47V457.43H443.14V459.07H444.49V460.95H446.64V462.60H447.61V463.77H448.85V465.71H451.33V467.95H453.16V469.42H454.19V471.23H456.66V473.34H458.28V474.80H459.52V476.58H461.78V478.72H463.77V480.39H465.17V482.14H467.38V484.05H469.22V485.40H470.29V486.63H471.91V488.03H473.42V489.53H475.30V490.98H476.70V492.22H478.16V493.47H479.56V494.73H481.07V496.64H483.76V498.47H485.05V500.01H487.10V502.14H489.74V504.27H491.84V506.09H493.89V507.62H495.40V508.99H497.17V510.69H499.65V512.34H501.38V513.79H503.37V515.40H505.42V517.31H508.00V519.64H510.64V521.80H512.42V523.41H513.82V524.71H514.95V526.38H517.11V528.20H518.67V529.82H520.66V531.24H522.17V532.42H523.84V534.31H527.66V536.85H531.92V538.73H534.02V540.02H536.28V541.25H538.22V542.60H540.97V543.89H542.80V544.96H544.90V546.48H548.73V548.66H554.28V550.61H558.10V552.38H563.16V554.19H567.26V555.68H570.92V556.94H573.99V558.07H577.12V559.25H580.62V560.48H584.28V561.46H586.44V562.61H591.12V564.07H595.27V565.06H597.21V566.12H601.84V567.43H605.61V568.38H608.25V569.47H612.99V570.77H616.50V571.99H619.62V573.21H622.42V575.14H628.72V577.19H633.46V578.52H636.80V579.87H642.41V581.22H647.26V582.08H650.70V582.68H653.18V583.66H659.21V585.50H666.11V587.18H669.45V605.30H666.11V603.62H659.21V601.77H653.18V600.78H650.70V600.18H647.26V599.31H642.41V597.96H636.80V596.61H633.46V595.27H628.72V593.22H622.42V591.28H619.62V590.05H616.50V588.82H612.99V587.48H608.25V586.35H605.61V585.36H601.84V583.99H597.21V582.90H595.27V581.87H591.12V580.36H586.44V579.17H584.28V578.16H580.62V576.88H577.12V575.67H573.99V574.50H570.92V573.20H567.26V571.66H563.16V569.80H558.10V567.98H554.28V565.97H548.73V563.75H544.90V562.19H542.80V561.10H540.97V559.78H538.22V558.40H536.28V557.15H534.02V555.84H531.92V553.91H527.66V551.33H523.84V549.41H522.17V548.22H520.66V546.77H518.67V545.13H517.11V543.29H514.95V541.60H513.82V540.29H512.42V538.65H510.64V536.47H508.00V534.11H505.42V532.17H503.37V530.54H501.38V529.07H499.65V527.40H497.17V525.67H495.40V524.29H493.89V522.74H491.84V520.89H489.74V518.74H487.10V516.58H485.05V515.02H483.76V513.16H481.07V511.18H479.56V509.77H478.16V508.38H476.70V506.99H475.30V505.37H473.42V503.70H471.91V502.13H470.29V500.77H469.22V499.27H467.38V497.15H465.17V495.22H463.77V493.37H461.78V491.02H459.52V489.06H458.28V487.45H456.66V485.13H454.19V483.15H453.16V481.53H451.33V479.07H448.85V476.93H447.61V475.66H446.64V473.84H444.49V471.78H443.14V470.00H441.47V468.06H439.91V466.07H438.19V464.43H437.22V462.64H435.28V460.67H434.04V458.89H432.42V457.02H431.08V455.47H430.00V454.02H428.81V452.69H427.95V450.99H426.23V448.50H424.40V446.00H422.73V443.85H421.43V442.08H420.30V440.01H418.63V437.51H416.96V434.90H415.18V432.28H413.57V429.83H412.27V427.28H410.55V424.72H409.37V422.66H408.45V420.75H407.64V418.80H406.89V417.03H406.51V415.37H406.03V413.66H405.70V411.61H405.11V409.44H404.73V407.39H404.14V404.62H403.17V402.64H402.69V401.12H401.99V399.48H401.55V397.52H400.91V395.12H400.53V393.84H400.42V391.79H400.10Z" fill="#7570B3" fill-opacity="0.3" stroke="none"/>
<path d="M400.10,391.75H400.42V399.80H400.48V401.38H400.58V403.25H400.69V405.31H400.85V407.99H401.07V410.09H401.18V411.98H401.39V413.92H401.55V415.78H401.82V417.85H402.15V419.69H402.42V421.19H402.69V422.74H403.01V424.59H403.33V426.42H403.71V428.61H404.25V430.29H404.46V431.67H404.89V433.72H405.43V435.83H405.97V437.68H406.46V439.58H407.10V441.94H407.86V444.27H408.56V446.12H409.04V447.59H409.53V448.93H409.96V450.09H410.34V451.43H410.93V452.95H411.47V454.71H412.27V456.69H413.03V458.49H413.73V460.10H414.27V461.86H415.08V464.18H416.10V466.18H416.69V468.07H417.66V470.51H418.74V472.73H419.55V474.94H420.62V477.15H421.49V479.07H422.35V481.25H423.48V483.59H424.50V485.25H424.99V486.62H425.74V488.21H426.39V490.08H427.36V492.06H427.95V494.08H428.87V496.60H429.78V498.68H430.37V500.57H431.18V502.93H432.21V505.33H433.18V507.37H433.93V509.57H435.06V512.20H436.25V514.16H436.84V515.59H437.59V517.35H438.56V519.47H439.80V521.23H440.56V523.06H442.06V525.51H443.84V527.58H445.08V529.05H446.10V530.39H447.24V531.92H448.64V533.67H450.20V535.62H451.98V537.89H454.02V540.47H456.07V543.03H457.96V545.23H459.46V547.24H461.08V549.49H463.02V551.91H465.01V553.84H466.25V555.30H467.55V556.56H468.51V558.13H470.40V560.36H472.66V562.27H474.06V563.60H475.30V564.94H476.76V566.99H479.61V569.33H481.93V571.58H484.73V573.61H486.83V575.19H488.72V577.06H491.63V578.77H493.13V580.26H495.40V582.25H498.14V584.63H501.43V586.98H504.12V589.13H506.92V590.83H508.49V592.45H510.86V594.56H513.39V596.21H514.68V597.59H516.67V599.15H518.61V600.85H521.58V602.35H524.00V604.01H528.80V605.62H531.92V606.96H535.48V608.18H537.41V609.88H542.75V611.61H545.01V613.19H550.34V615.23H556.54V616.87H560.63V618.15H565.86V619.02H568.71V619.77H573.18V620.78H578.84V621.65H581.75V622.19H584.28V622.82H588.48V623.37H590.96V623.97H596.67V624.64H600.60V625.29H605.18V626.28H611.86V627.45H618.44V628.10H622.10V628.67H628.24V629.24H631.63V629.92H638.04V630.62H642.41V631.17H648.66V631.54H650.81V631.87H656.25V632.31H660.83V632.68H664.44V633.06H669.45V639.78H664.44V639.64H660.83V639.50H656.25V639.34H650.81V639.23H648.66V639.10H642.41V638.83H638.04V638.37H631.63V637.94H628.24V637.61H622.10V637.30H618.44V636.94H611.86V636.31H605.18V635.78H600.60V635.50H596.67V635.25H590.96V635.01H588.48V634.73H584.28V634.38H581.75V634.06H578.84V633.54H573.18V632.95H568.71V632.50H565.86V631.95H560.63V631.27H556.54V630.41H550.34V629.22H545.01V628.19H542.75V627.00H537.41V625.83H535.48V625.00H531.92V624.08H528.80V622.98H524.00V621.77H521.58V620.61H518.61V619.21H516.67V617.89H514.68V616.71H513.39V615.29H510.86V613.48H508.49V612.11H506.92V610.63H504.12V608.77H501.43V606.75H498.14V604.69H495.40V602.97H493.13V601.69H491.63V600.22H488.72V598.61H486.83V597.24H484.73V595.48H481.93V593.50H479.61V591.25H476.76V589.27H475.30V587.98H474.06V586.68H472.66V584.83H470.40V582.68H468.51V581.16H467.55V579.93H466.25V578.52H465.01V576.65H463.02V574.29H461.08V572.10H459.46V570.14H457.96V568.00H456.07V565.52H454.02V562.94H451.98V560.59H450.20V558.57H448.64V556.77H447.24V555.19H446.10V553.80H445.08V552.29H443.84V550.16H442.06V547.65H440.56V545.77H439.80V543.97H438.56V541.81H437.59V540.01H436.84V538.56H436.25V536.57H435.06V533.89H433.93V531.65H433.18V529.58H432.21V527.14H431.18V524.74H430.37V522.82H429.78V520.72H428.87V518.17H427.95V516.12H427.36V514.06H426.39V511.95H425.74V510.16H424.99V508.59H424.50V506.71H423.48V504.05H422.35V501.57H421.49V499.40H420.62V496.90H419.55V494.41H418.74V491.90H417.66V489.16H416.69V487.03H416.10V484.79H415.08V482.20H414.27V480.24H413.73V478.36H413.03V476.02H412.27V473.46H411.47V471.20H410.93V469.26H410.34V467.55H409.96V466.10H409.53V464.42H409.04V462.58H408.56V460.29H407.86V457.42H407.10V454.52H406.46V451.92H405.97V449.43H405.43V446.65H404.89V444.01H404.46V442.22H404.25V440.08H403.71V437.32H403.33V435.06H403.01V432.81H402.69V430.29H402.42V427.79H402.15V424.85H401.82V421.68H401.55V419.02H401.39V416.38H401.18V413.89H401.07V411.19H400.85V407.81H400.69V405.25H400.58V402.98H400.48V401.10H400.42V392.05H400.10Z" fill="#E7298A" fill-opacity="0.3" stroke="none"/>
</g>
<rect x="386.82" y="379.75" width="295.58" height="274.35" fill="none" stroke="#333333" stroke-width="1.33"/>
<path d="M400.10,654.10V655.80M427.03,654.10V655.80M453.97,654.10V655.80M480.90,654.10V655.80M507.84,654.10V655.80M534.77,654.10V655.80M561.71,654.10V655.80M588.64,654.10V655.80M615.58,654.10V655.80M642.51,654.10V655.80M669.45,654.10V655.80M386.82,641.75H385.12M386.82,579.25H385.12M386.82,516.75H385.12M386.82,454.25H385.12M386.82,391.75H385.12" stroke="#111111" stroke-width="1.7" fill="none"/>
<text x="400.10" y="663.50" font-size="9.40" fill="#4D4D4D" text-anchor="middle">0</text>
<text x="427.03" y="663.50" font-size="9.40" fill="#4D4D4D" text-anchor="middle">1</text>
<text x="453.97" y="663.50" font-size="9.40" fill="#4D4D4D" text-anchor="middle">2</text>
<text x="480.90" y="663.50" font-size="9.40" fill="#4D4D4D" text-anchor="middle">3</text>
<text x="507.84" y="663.50" font-size="9.40" fill="#4D4D4D" text-anchor="middle">4</text>
<text x="534.77" y="663.50" font-size="9.40" fill="#4D4D4D" text-anchor="middle">5</text>
<text x="561.71" y="663.50" font-size="9.40" fill="#4D4D4D" text-anchor="middle">6</text>
<text x="588.64" y="663.50" font-size="9.40" fill="#4D4D4D" text-anchor="middle">7</text>
<text x="615.58" y="663.50" font-size="9.40" fill="#4D4D4D" text-anchor="middle">8</text>
<text x="642.51" y="663.50" font-size="9.40" fill="#4D4D4D" text-anchor="middle">9</text>
<text x="669.45" y="663.50" font-size="9.40" fill="#4D4D4D" text-anchor="middle">10</text>
<text x="384.02" y="645.35" font-size="9.40" fill="#4D4D4D" text-anchor="end">0.00</text>
<text x="384.02" y="582.85" font-size="9.40" fill="#4D4D4D" text-anchor="end">0.25</text>
<text x="384.02" y="520.35" font-size="9.40" fill="#4D4D4D" text-anchor="end">0.50</text>
<text x="384.02" y="457.85" font-size="9.40" fill="#4D4D4D" text-anchor="end">0.75</text>
<text x="384.02" y="395.35" font-size="9.40" fill="#4D4D4D" text-anchor="end">1.00</text>
<text x="386.20" y="355.50" font-size="15" font-weight="bold" fill="#000">D</text>
<text x="471.77" y="370.20" font-size="9.30" fill="#000">Stage:</text>
<rect x="507.86" y="362.80" width="7.20" height="8.40" fill="#1B9E77" fill-opacity="0.3"/>
<rect x="507.86" y="364.50" width="7.20" height="5.00" fill="#1B9E77"/>
<text x="519.46" y="370.20" font-size="9.30" fill="#000">I</text>
<rect x="528.34" y="362.80" width="7.20" height="8.40" fill="#D95F02" fill-opacity="0.3"/>
<rect x="528.34" y="364.50" width="7.20" height="5.00" fill="#D95F02"/>
<text x="539.94" y="370.20" font-size="9.30" fill="#000">II</text>
<rect x="551.41" y="362.80" width="7.20" height="8.40" fill="#7570B3" fill-opacity="0.3"/>
<rect x="551.41" y="364.50" width="7.20" height="5.00" fill="#7570B3"/>
<text x="563.01" y="370.20" font-size="9.30" fill="#000">III</text>
<rect x="577.06" y="362.80" width="7.20" height="8.40" fill="#E7298A" fill-opacity="0.3"/>
<rect x="577.06" y="364.50" width="7.20" height="5.00" fill="#E7298A"/>
<text x="588.66" y="370.20" font-size="9.30" fill="#000">IV</text>
</g>
<g>
<clipPath id="clipE"><rect x="43.98" y="721.75" width="296.28" height="275.00"/></clipPath>
<path d="M70.92,721.75V996.75M97.85,721.75V996.75M124.79,721.75V996.75M151.72,721.75V996.75M178.66,721.75V996.75M205.59,721.75V996.75M232.53,721.75V996.75M259.46,721.75V996.75M286.40,721.75V996.75M313.33,721.75V996.75M43.98,953.00H340.27M43.98,890.50H340.27M43.98,828.00H340.27M43.98,765.50H340.27" stroke="#EBEBEB" stroke-width="1.2" fill="none"/>
<path d="M57.45,721.75V996.75M84.39,721.75V996.75M111.32,721.75V996.75M138.25,721.75V996.75M165.19,721.75V996.75M192.12,721.75V996.75M219.06,721.75V996.75M246.00,721.75V996.75M272.93,721.75V996.75M299.87,721.75V996.75M326.80,721.75V996.75M43.98,984.25H340.27M43.98,921.75H340.27M43.98,859.25H340.27M43.98,796.75H340.27M43.98,734.25H340.27" stroke="#EBEBEB" stroke-width="1.8" fill="none"/>
<g clip-path="url(#clipE)">
<path d="M57.45,734.25H57.77V735.71H58.42V737.00H59.01V739.10H61.01V741.29H64.56V743.53H66.82V745.76H69.41V747.91H72.16V749.65H75.17V751.00H77.33V752.19H80.18V753.95H85.14V755.66H87.56V757.12H91.71V758.96H96.02V760.53H98.71V762.20H103.13V764.06H106.36V765.72H109.92V767.35H113.15V769.02H116.98V770.85H120.96V772.92H126.03V774.86H129.74V776.51H133.73V778.46H139.01V780.53H143.70V781.99H146.23V783.73H152.26V785.61H155.39V787.21H160.40V788.87H163.25V790.30H166.38V792.28H169.88V794.31H172.09V795.72H173.65V797.54H176.99V799.56H179.68V801.13H182.32V802.66H185.01V804.73H190.08V807.13H196.27V808.80H200.80V810.21H206.62V811.48H209.36V812.44H212.70V813.40H215.61V814.30H218.95V815.01H221.38V815.88H227.25V816.86H231.61V817.54H233.77V818.51H240.34V820.06H246.59V821.55H250.52V822.75H253.32V824.21H258.33V825.77H262.26V826.96H265.93V828.21H270.45V829.59H274.49V831.18H278.86V832.74H282.03V833.82H284.19V834.98H288.50V836.20H291.78V837.28H295.77V838.19H298.79V839.05H304.34V839.71H308.75V840.47H315.11V842.02H320.50V843.77H323.84V845.26H326.80" stroke="#1B9E77" stroke-width="5.15" fill="none" stroke-linejoin="round" stroke-linecap="butt"/>
<path d="M57.45,734.25H57.77V735.49H58.04V736.48H58.53V737.75H59.07V739.68H60.31V741.68H61.54V743.77H63.75V745.79H65.10V747.71H66.88V750.06H68.92V752.41H71.13V754.66H74.10V756.36H75.77V758.12H79.54V759.89H81.48V761.29H83.85V763.23H86.86V765.41H89.29V767.36H91.55V769.52H94.46V771.42H96.29V773.27H99.47V775.58H103.35V777.80H106.79V779.46H109.00V781.12H112.40V783.03H115.31V784.45H117.14V785.59H119.13V786.89H121.45V788.39H123.93V790.48H127.80V792.92H130.77V795.24H134.05V797.04H135.62V798.28H137.45V800.26H141.27V802.41H143.86V804.42H147.41V806.25H149.41V808.24H153.28V810.82H156.57V812.83H158.62V814.25H160.34V815.47H161.90V817.19H165.24V819.43H168.96V821.79H173.43V824.27H178.17V826.84H183.45V828.67H185.77V829.97H188.95V831.37H191.69V832.56H193.79V833.89H196.87V835.44H199.67V837.25H203.87V838.90H206.83V840.55H212.81V842.06H216.20V843.42H220.30V845.00H222.88V846.25H224.61V848.06H228.81V850.56H233.98V852.01H237.70V853.27H244.65V854.95H250.20V857.20H257.20V859.28H261.94V860.63H266.25V861.70H269.59V862.69H272.88V864.28H278.42V866.09H281.33V867.82H286.51V869.29H289.47V870.82H296.26V872.66H302.77V873.74H306.01V874.65H311.93V875.93H315.86V877.22H318.99V879.11H324.05V881.21H326.80" stroke="#D95F02" stroke-width="5.15" fill="none" stroke-linejoin="round" stroke-linecap="butt"/>
<path d="M57.45,734.25H57.77V735.84H57.88V737.17H58.42V739.08H58.85V740.70H59.28V742.12H59.66V743.44H60.09V745.25H60.90V747.27H61.60V749.17H62.46V751.39H63.59V753.86H64.88V756.26H66.12V758.32H67.20V760.48H68.71V762.38H69.68V764.12H71.19V766.40H73.34V768.96H75.87V771.46H78.46V773.64H80.61V775.77H83.09V777.59H84.39V779.35H86.49V781.79H88.91V783.86H90.26V785.82H92.47V788.01H94.30V790.04H96.34V792.30H98.93V794.64H101.57V796.32H102.92V798.23H106.26V800.87H109.65V803.22H112.29V805.09H114.44V806.62H116.33V808.09H118.38V809.70H120.64V811.61H123.44V813.73H126.08V815.84H128.61V817.74H130.61V819.81H133.46V821.56H134.70V823.36H137.77V825.85H140.89V828.27H144.07V830.38H146.50V831.99H148.38V833.43H150.32V835.38H153.45V837.96H157.06V840.11H159.05V841.51H160.61V843.45H163.84V845.78H166.05V848.05H168.58V850.42H170.52V852.63H172.57V854.88H174.62V856.99H176.61V858.49H177.74V860.21H180.76V861.92H182.43V863.46H185.45V865.67H189.65V868.26H193.85V870.56H196.43V872.57H199.51V874.73H202.74V876.57H205.70V877.95H208.72V879.44H213.78V880.83H217.28V882.04H221.05V883.73H226.71V885.60H231.50V887.10H235.76V888.38H240.28V889.71H245.08V891.50H251.11V893.53H255.37V895.56H261.24V897.64H267.06V899.04H269.54V900.19H273.47V901.78H277.19V903.35H280.09V904.60H282.25V905.96H285.80V907.64H290.06V909.65H295.29V911.72H302.07V912.68H305.95V913.17H310.26V913.68H313.12V914.45H317.21V915.88H321.68V917.49H324.70V918.72H326.80" stroke="#7570B3" stroke-width="5.15" fill="none" stroke-linejoin="round" stroke-linecap="butt"/>
<path d="M57.45,734.25H57.77V735.56H58.42V736.72H59.01V738.53H61.01V740.10H64.56V741.69H66.82V743.37H69.41V744.92H72.16V746.37H75.17V747.48H77.33V748.43H80.18V749.83H85.14V751.18H87.56V752.33H91.71V753.77H96.02V755.00H98.71V756.38H103.13V757.92H106.36V759.30H109.92V760.65H113.15V762.02H116.98V763.53H120.96V765.22H126.03V766.79H129.74V768.12H133.73V769.68H139.01V771.44H143.70V772.72H146.23V774.25H152.26V775.90H155.39V777.31H160.40V778.77H163.25V780.06H166.38V781.87H169.88V783.76H172.09V785.08H173.65V786.77H176.99V788.64H179.68V790.08H182.32V791.47H185.01V793.34H190.08V795.48H196.27V796.92H200.80V798.13H206.62V799.23H209.36V800.06H212.70V800.90H215.61V801.66H218.95V802.26H221.38V802.96H227.25V803.73H231.61V804.28H233.77V805.07H240.34V806.36H246.59V807.64H250.52V808.70H253.32V810.00H258.33V811.38H262.26V812.41H265.93V813.48H270.45V814.68H274.49V816.09H278.86V817.49H282.03V818.45H284.19V819.48H288.50V820.53H291.78V821.46H295.77V822.22H298.79V822.90H304.34V823.35H308.75V823.89H315.11V825.18H320.50V826.74H323.84V828.08H326.80V860.54H323.84V858.96H320.50V857.08H315.11V855.34H308.75V854.40H304.34V853.58H298.79V852.59H295.77V851.56H291.78V850.36H288.50V849.03H284.19V847.76H282.03V846.59H278.86V844.91H274.49V843.19H270.45V841.66H265.93V840.29H262.26V838.97H258.33V837.26H253.32V835.67H250.52V834.36H246.59V832.70H240.34V830.93H233.77V829.82H231.61V829.03H227.25V827.87H221.38V826.86H218.95V826.05H215.61V825.05H212.70V823.98H209.36V822.92H206.62V821.51H200.80V819.92H196.27V818.07H190.08V815.43H185.01V813.20H182.32V811.56H179.68V809.87H176.99V807.72H173.65V805.80H172.09V804.31H169.88V802.15H166.38V800.03H163.25V798.47H160.40V796.64H155.39V794.86H152.26V792.78H146.23V790.85H143.70V789.23H139.01V786.88H133.73V784.58H129.74V782.63H126.03V780.35H120.96V777.93H116.98V775.80H113.15V773.85H109.92V771.96H106.36V770.03H103.13V767.88H98.71V765.92H96.02V764.03H91.71V761.81H87.56V760.05H85.14V758.01H80.18V755.89H77.33V754.47H75.17V752.88H72.16V750.86H69.41V748.12H66.82V745.36H64.56V742.48H61.01V739.67H59.01V737.28H58.42V735.85H57.77V734.29H57.45Z" fill="#1B9E77" fill-opacity="0.3" stroke="none"/>
<path d="M57.45,734.25H57.77V735.39H58.04V736.29H58.53V737.45H59.07V739.18H60.31V740.90H61.54V742.61H63.75V744.23H65.10V745.81H66.88V747.72H68.92V749.59H71.13V751.48H74.10V752.96H75.77V754.47H79.54V755.97H81.48V757.16H83.85V758.85H86.86V760.77H89.29V762.50H91.55V764.41H94.46V766.09H96.29V767.69H99.47V769.72H103.35V771.63H106.79V773.05H109.00V774.48H112.40V776.13H115.31V777.34H117.14V778.33H119.13V779.45H121.45V780.74H123.93V782.57H127.80V784.72H130.77V786.77H134.05V788.37H135.62V789.46H137.45V791.27H141.27V793.34H143.86V795.28H147.41V797.04H149.41V798.95H153.28V801.44H156.57V803.38H158.62V804.76H160.34V805.93H161.90V807.59H165.24V809.73H168.96V811.99H173.43V814.35H178.17V816.79H183.45V818.53H185.77V819.76H188.95V821.08H191.69V822.22H193.79V823.54H196.87V825.08H199.67V826.87H203.87V828.50H206.83V830.13H212.81V831.63H216.20V832.96H220.30V834.53H222.88V835.77H224.61V837.57H228.81V840.04H233.98V841.47H237.70V842.71H244.65V844.36H250.20V846.59H257.20V848.65H261.94V849.97H266.25V851.03H269.59V852.00H272.88V853.52H278.42V855.25H281.33V856.88H286.51V858.26H289.47V859.69H296.26V861.38H302.77V862.36H306.01V863.17H311.93V864.34H315.86V865.55H318.99V867.34H324.05V869.35H326.80V891.84H324.05V889.69H318.99V887.74H315.86V886.39H311.93V885.05H306.01V884.06H302.77V882.90H296.26V880.96H289.47V879.35H286.51V877.82H281.33V876.03H278.42V874.15H272.88V872.51H269.59V871.52H266.25V870.44H261.94V869.09H257.20V866.99H250.20V864.73H244.65V863.04H237.70V861.76H233.98V860.31H228.81V857.80H224.61V855.99H222.88V854.73H220.30V853.14H216.20V851.78H212.81V850.26H206.83V848.60H203.87V846.94H199.67V845.13H196.87V843.57H193.79V842.24H191.69V841.01H188.95V839.55H185.77V838.20H183.45V836.28H178.17V833.60H173.43V831.03H168.96V828.58H165.24V826.27H161.90V824.50H160.34V823.25H158.62V821.79H156.57V819.72H153.28V817.06H149.41V815.01H147.41V813.13H143.86V811.05H141.27V808.83H137.45V806.69H135.62V805.33H134.05V803.34H130.77V800.78H127.80V798.08H123.93V795.74H121.45V794.06H119.13V792.59H117.14V791.30H115.31V789.71H112.40V787.55H109.00V785.67H106.79V783.79H103.35V781.29H99.47V778.70H96.29V776.63H94.46V774.51H91.55V772.12H89.29V769.95H86.86V767.53H83.85V765.34H81.48V763.75H79.54V761.72H75.77V759.70H74.10V757.80H71.13V755.19H68.92V752.37H66.88V749.61H65.10V747.34H63.75V744.93H61.54V742.45H60.31V740.18H59.07V738.05H58.53V736.67H58.04V735.59H57.77V734.29H57.45Z" fill="#D95F02" fill-opacity="0.3" stroke="none"/>
<path d="M57.45,734.25H57.77V735.74H57.88V736.98H58.42V738.77H58.85V740.28H59.28V741.59H59.66V742.80H60.09V744.46H60.90V746.28H61.60V747.98H62.46V749.94H63.59V752.08H64.88V754.15H66.12V755.92H67.20V757.73H68.71V759.31H69.68V760.72H71.19V762.74H73.34V765.08H75.87V767.34H78.46V769.30H80.61V771.21H83.09V772.85H84.39V774.44H86.49V776.66H88.91V778.56H90.26V780.35H92.47V782.35H94.30V784.19H96.34V786.23H98.93V788.36H101.57V789.89H102.92V791.61H106.26V794.00H109.65V796.11H112.29V797.79H114.44V799.16H116.33V800.48H118.38V801.92H120.64V803.63H123.44V805.54H126.08V807.45H128.61V809.17H130.61V811.05H133.46V812.63H134.70V814.26H137.77V816.57H140.89V818.92H144.07V820.97H146.50V822.53H148.38V823.94H150.32V825.83H153.45V828.34H157.06V830.44H159.05V831.79H160.61V833.68H163.84V835.95H166.05V838.17H168.58V840.49H170.52V842.65H172.57V844.85H174.62V846.92H176.61V848.38H177.74V850.06H180.76V851.71H182.43V853.20H185.45V855.33H189.65V857.82H193.85V860.10H196.43V862.09H199.51V864.23H202.74V866.05H205.70V867.41H208.72V868.89H213.78V870.25H217.28V871.44H221.05V873.11H226.71V874.95H231.50V876.42H235.76V877.68H240.28V878.98H245.08V880.74H251.11V882.74H255.37V884.75H261.24V886.79H267.06V888.16H269.54V889.30H273.47V890.85H277.19V892.39H280.09V893.62H282.25V894.95H285.80V896.60H290.06V898.56H295.29V900.57H302.07V901.50H305.95V901.96H310.26V902.44H313.12V903.18H317.21V904.57H321.68V906.13H324.70V907.34H326.80V928.42H324.70V927.19H321.68V925.59H317.21V924.15H313.12V923.38H310.26V922.86H305.95V922.36H302.07V921.38H295.29V919.31H290.06V917.30H285.80V915.61H282.25V914.25H280.09V913.00H277.19V911.43H273.47V909.84H269.54V908.68H267.06V907.28H261.24V905.20H255.37V903.17H251.11V901.13H245.08V899.34H240.28V898.00H235.76V896.72H231.50V895.21H226.71V893.34H221.05V891.64H217.28V890.42H213.78V889.04H208.72V887.54H205.70V886.15H202.74V884.31H199.51V882.16H196.43V880.14H193.85V877.83H189.65V875.19H185.45V872.92H182.43V871.34H180.76V869.60H177.74V867.84H176.61V866.32H174.62V864.18H172.57V861.90H170.52V859.67H168.58V857.26H166.05V854.96H163.84V852.58H160.61V850.60H159.05V849.18H157.06V846.99H153.45V844.35H150.32V842.36H148.38V840.89H146.50V839.24H144.07V837.09H140.89V834.62H137.77V831.97H134.70V830.02H133.46V828.13H130.61V825.90H128.61V823.83H126.08V821.54H123.44V819.23H120.64V817.14H118.38V815.38H116.33V813.77H114.44V812.10H112.29V810.07H109.65V807.50H106.26V804.61H102.92V802.54H101.57V800.72H98.93V798.19H96.34V795.72H94.30V793.52H92.47V791.15H90.26V789.03H88.91V786.78H86.49V784.14H84.39V782.23H83.09V780.24H80.61V777.90H78.46V775.50H75.87V772.77H73.34V769.99H71.19V767.47H69.68V765.41H68.71V763.19H67.20V760.71H66.12V758.34H64.88V755.61H63.59V752.84H62.46V750.36H61.60V748.25H60.90V746.04H60.09V744.06H59.66V742.64H59.28V741.12H58.85V739.39H58.42V737.35H57.88V735.94H57.77V734.29H57.45Z" fill="#7570B3" fill-opacity="0.3" stroke="none"/>
</g>
<rect x="44.17" y="722.25" width="295.58" height="274.35" fill="none" stroke="#333333" stroke-width="1.33"/>
<path d="M57.45,996.60V998.30M84.39,996.60V998.30M111.32,996.60V998.30M138.25,996.60V998.30M165.19,996.60V998.30M192.12,996.60V998.30M219.06,996.60V998.30M246.00,996.60V998.30M272.93,996.60V998.30M299.87,996.60V998.30M326.80,996.60V998.30M44.17,984.25H42.47M44.17,921.75H42.47M44.17,859.25H42.47M44.17,796.75H42.47M44.17,734.25H42.47" stroke="#111111" stroke-width="1.7" fill="none"/>
<text x="57.45" y="1006.00" font-size="9.40" fill="#4D4D4D" text-anchor="middle">0</text>
<text x="84.39" y="1006.00" font-size="9.40" fill="#4D4D4D" text-anchor="middle">1</text>
<text x="111.32" y="1006.00" font-size="9.40" fill="#4D4D4D" text-anchor="middle">2</text>
<text x="138.25" y="1006.00" font-size="9.40" fill="#4D4D4D" text-anchor="middle">3</text>
<text x="165.19" y="1006.00" font-size="9.40" fill="#4D4D4D" text-anchor="middle">4</text>
<text x="192.12" y="1006.00" font-size="9.40" fill="#4D4D4D" text-anchor="middle">5</text>
<text x="219.06" y="1006.00" font-size="9.40" fill="#4D4D4D" text-anchor="middle">6</text>
<text x="246.00" y="1006.00" font-size="9.40" fill="#4D4D4D" text-anchor="middle">7</text>
<text x="272.93" y="1006.00" font-size="9.40" fill="#4D4D4D" text-anchor="middle">8</text>
<text x="299.87" y="1006.00" font-size="9.40" fill="#4D4D4D" text-anchor="middle">9</text>
<text x="326.80" y="1006.00" font-size="9.40" fill="#4D4D4D" text-anchor="middle">10</text>
<text x="41.37" y="987.85" font-size="9.40" fill="#4D4D4D" text-anchor="end">0.00</text>
<text x="41.37" y="925.35" font-size="9.40" fill="#4D4D4D" text-anchor="end">0.25</text>
<text x="41.37" y="862.85" font-size="9.40" fill="#4D4D4D" text-anchor="end">0.50</text>
<text x="41.37" y="800.35" font-size="9.40" fill="#4D4D4D" text-anchor="end">0.75</text>
<text x="41.37" y="737.85" font-size="9.40" fill="#4D4D4D" text-anchor="end">1.00</text>
<text x="10.17" y="860.52" font-size="9.50" fill="#000" text-anchor="middle" transform="rotate(-90 10.17 860.52)">Survival probability</text>
<text x="193.16" y="1026.30" font-size="9.50" fill="#000" text-anchor="middle">Survival time in years</text>
<text x="43.50" y="698.00" font-size="15" font-weight="bold" fill="#000">E</text>
<text x="143.89" y="712.70" font-size="9.30" fill="#000">CCI:</text>
<rect x="171.69" y="705.30" width="7.20" height="8.40" fill="#1B9E77" fill-opacity="0.3"/>
<rect x="171.69" y="707.00" width="7.20" height="5.00" fill="#1B9E77"/>
<text x="183.29" y="712.70" font-size="9.30" fill="#000">0</text>
<rect x="194.76" y="705.30" width="7.20" height="8.40" fill="#D95F02" fill-opacity="0.3"/>
<rect x="194.76" y="707.00" width="7.20" height="5.00" fill="#D95F02"/>
<text x="206.36" y="712.70" font-size="9.30" fill="#000">1</text>
<rect x="217.83" y="705.30" width="7.20" height="8.40" fill="#7570B3" fill-opacity="0.3"/>
<rect x="217.83" y="707.00" width="7.20" height="5.00" fill="#7570B3"/>
<text x="229.43" y="712.70" font-size="9.30" fill="#000">2+</text>
</g>
<g>
<clipPath id="clipF"><rect x="386.63" y="721.75" width="296.29" height="275.00"/></clipPath>
<path d="M413.57,721.75V996.75M440.50,721.75V996.75M467.44,721.75V996.75M494.37,721.75V996.75M521.31,721.75V996.75M548.24,721.75V996.75M575.18,721.75V996.75M602.11,721.75V996.75M629.05,721.75V996.75M655.98,721.75V996.75M386.63,953.00H682.92M386.63,890.50H682.92M386.63,828.00H682.92M386.63,765.50H682.92" stroke="#EBEBEB" stroke-width="1.2" fill="none"/>
<path d="M400.10,721.75V996.75M427.03,721.75V996.75M453.97,721.75V996.75M480.90,721.75V996.75M507.84,721.75V996.75M534.77,721.75V996.75M561.71,721.75V996.75M588.64,721.75V996.75M615.58,721.75V996.75M642.51,721.75V996.75M669.45,721.75V996.75M386.63,984.25H682.92M386.63,921.75H682.92M386.63,859.25H682.92M386.63,796.75H682.92M386.63,734.25H682.92" stroke="#EBEBEB" stroke-width="1.8" fill="none"/>
<g clip-path="url(#clipF)">
<path d="M400.10,734.25H400.42V735.54H400.53V736.71H401.12V738.99H401.99V740.81H402.42V742.43H403.33V744.37H404.25V746.39H405.49V748.18H406.51V749.73H408.02V751.48H410.34V752.88H411.79V754.15H413.84V755.87H415.99V757.65H418.09V759.29H419.87V760.57H421.11V762.02H423.26V763.74H425.10V765.51H427.30V767.28H429.03V768.63H430.16V769.98H431.78V771.82H433.88V773.91H436.03V775.81H437.92V777.19H439.16V778.65H441.58V780.85H445.62V783.00H448.85V784.58H451.17V786.24H454.40V788.63H458.33V790.83H460.60V792.26H462.27V793.46H463.83V794.67H465.50V796.08H467.60V797.44H469.11V799.11H471.91V801.34H474.76V803.56H477.51V805.54H479.83V807.13H481.66V808.50H483.49V809.92H485.48V811.90H488.88V814.04H491.41V816.16H494.91V818.26H497.60V820.26H501.11V822.45H504.55V824.53H507.52V826.36H509.89V828.15H512.31V829.66H513.77V831.37H516.67V833.34H518.94V835.53H522.98V837.94H527.07V839.86H530.14V841.35H532.89V842.69H535.42V843.95H537.85V845.08H539.78V846.16H542.10V847.57H545.55V849.05H548.73V850.06H550.72V851.22H555.51V852.44H558.48V853.76H563.60V855.37H567.20V856.96H571.78V858.84H576.58V860.87H581.37V862.89H585.68V864.79H590.48V866.33H594.03V867.64H597.96V869.29H604.70V870.37H607.12V871.12H612.46V872.32H617.47V873.68H619.67V874.77H621.78V876.41H625.60V877.95H627.65V879.22H631.63V880.85H637.29V882.59H644.13V883.48H646.07V883.98H650.97V884.50H653.29V885.08H657.22V886.08H660.51V887.31H663.63V888.59H666.11V890.09H669.45" stroke="#1B9E77" stroke-width="5.15" fill="none" stroke-linejoin="round" stroke-linecap="butt"/>
<path d="M400.10,734.25H400.42V736.57H400.48V737.61H400.75V739.78H401.18V741.97H401.50V743.56H401.77V744.89H402.04V746.59H402.52V749.12H403.28V751.26H403.66V752.88H404.14V755.02H404.73V757.31H405.22V759.41H405.70V761.84H406.40V764.65H407.37V766.57H407.86V768.40H408.93V770.63H410.01V772.35H410.77V773.60H411.41V774.90H412.22V776.43H413.08V778.48H414.27V780.34H414.81V781.99H415.72V783.79H416.37V785.49H417.18V787.48H418.09V789.07H418.58V790.42H419.33V791.78H419.87V793.01H420.57V794.98H422.08V797.47H423.96V799.39H425.15V800.87H426.55V802.21H427.57V803.74H429.24V805.96H431.18V807.78H432.04V809.20H433.34V811.16H435.12V813.11H436.57V814.56H437.65V816.30H439.69V818.56H441.90V820.32H443.20V821.52H444.38V822.99H446.32V824.59H447.83V826.64H450.74V829.30H453.38V831.65H455.32V833.72H457.15V835.58H458.55V836.97H459.52V838.74H461.51V840.61H462.64V841.82H463.56V843.46H465.44V845.42H467.01V846.81H467.98V848.29H469.81V850.11H471.48V851.52H472.56V853.17H474.76V855.44H477.13V857.72H479.45V860.07H481.98V862.67H484.89V864.72H486.35V866.22H488.12V868.01H490.22V870.10H492.70V872.21H494.86V874.47H497.71V876.24H498.90V877.37H500.30V878.56H501.64V879.81H503.15V881.55H505.58V883.34H507.09V884.57H508.22V885.91H509.83V887.56H511.40V889.42H513.28V891.57H515.33V893.47H516.78V895.23H518.72V897.13H520.71V898.72H522.44V900.56H525.51V902.75H528.63V905.04H532.62V907.36H536.44V909.48H540.32V911.07H542.64V912.36H545.66V913.91H549.32V915.82H554.28V917.53H557.51V918.67H560.04V919.88H564.13V921.33H568.66V922.70H572.97V924.16H578.46V925.30H581.21V925.98H583.58V926.91H588.00V927.94H590.48V929.20H594.95V930.90H599.26V932.00H601.36V932.97H607.18V933.88H612.51V934.90H617.90V936.67H622.26V938.19H624.20V939.45H627.49V941.06H632.50V942.64H637.83V943.76H640.90V944.55H644.56V945.43H650.11V946.50H657.01V947.83H661.91V948.93H665.14V950.06H669.45" stroke="#D95F02" stroke-width="5.15" fill="none" stroke-linejoin="round" stroke-linecap="butt"/>
<path d="M400.10,734.25H400.42V735.46H400.53V736.55H401.12V738.67H401.99V740.34H402.42V741.81H403.33V743.54H404.25V745.33H405.49V746.86H406.51V748.12H408.02V749.45H410.34V750.42H411.79V751.30H413.84V752.70H415.99V754.24H418.09V755.65H419.87V756.76H421.11V758.02H423.26V759.52H425.10V761.06H427.30V762.66H429.03V763.93H430.16V765.19H431.78V766.92H433.88V768.88H436.03V770.65H437.92V771.93H439.16V773.28H441.58V775.28H445.62V777.20H448.85V778.60H451.17V780.09H454.40V782.26H458.33V784.26H460.60V785.57H462.27V786.67H463.83V787.77H465.50V789.07H467.60V790.32H469.11V791.85H471.91V793.90H474.76V795.94H477.51V797.76H479.83V799.22H481.66V800.53H483.49V801.89H485.48V803.79H488.88V805.84H491.41V807.88H494.91V809.88H497.60V811.78H501.11V813.87H504.55V815.85H507.52V817.60H509.89V819.32H512.31V820.77H513.77V822.41H516.67V824.31H518.94V826.39H522.98V828.68H527.07V830.49H530.14V831.89H532.89V833.14H535.42V834.38H537.85V835.50H539.78V836.57H542.10V837.97H545.55V839.44H548.73V840.44H550.72V841.58H555.51V842.78H558.48V844.09H563.60V845.68H567.20V847.25H571.78V849.11H576.58V851.12H581.37V853.12H585.68V854.99H590.48V856.52H594.03V857.81H597.96V859.43H604.70V860.50H607.12V861.23H612.46V862.40H617.47V863.73H619.67V864.80H621.78V866.39H625.60V867.90H627.65V869.13H631.63V870.71H637.29V872.38H644.13V873.22H646.07V873.68H650.97V874.16H653.29V874.71H657.22V875.67H660.51V876.85H663.63V878.10H666.11V879.55H669.45V899.56H666.11V898.05H663.63V896.75H660.51V895.50H657.22V894.48H653.29V893.87H650.97V893.32H646.07V892.80H644.13V891.87H637.29V890.09H631.63V888.42H627.65V887.14H625.60V885.57H621.78V883.92H619.67V882.81H617.47V881.42H612.46V880.21H607.12V879.46H604.70V878.36H597.96V876.71H594.03V875.39H590.48V873.84H585.68V871.94H581.37V869.91H576.58V867.87H571.78V865.98H567.20V864.38H563.60V862.77H558.48V861.44H555.51V860.21H550.72V859.04H548.73V858.03H545.55V856.54H542.10V855.12H539.78V854.04H537.85V852.91H535.42V851.62H532.89V850.22H530.14V848.66H527.07V846.65H522.98V844.14H518.94V841.87H516.67V839.83H513.77V838.07H512.31V836.51H509.89V834.66H507.52V832.76H504.55V830.60H501.11V828.32H497.60V826.24H494.91V824.06H491.41V821.86H488.88V819.65H485.48V817.60H483.49V816.13H481.66V814.70H479.83V813.00H477.51V810.87H474.76V808.49H471.91V806.09H469.11V804.31H467.60V802.84H465.50V801.32H463.83V800.02H462.27V798.73H460.60V797.18H458.33V794.80H454.40V792.20H451.17V790.38H448.85V788.64H445.62V786.28H441.58V783.89H439.16V782.32H437.92V780.85H436.03V778.83H433.88V776.62H431.78V774.66H430.16V773.24H429.03V771.80H427.30V769.87H425.10V767.88H423.26V765.94H421.11V764.30H419.87V762.86H418.09V761.01H415.99V759.00H413.84V756.96H411.79V755.31H410.34V753.50H408.02V751.32H406.51V749.49H405.49V747.45H404.25V745.19H403.33V743.05H402.42V741.28H401.99V739.31H401.12V736.87H400.53V735.63H400.42V734.29H400.10Z" fill="#1B9E77" fill-opacity="0.3" stroke="none"/>
<path d="M400.10,734.25H400.42V736.18H400.48V737.04H400.75V738.82H401.18V740.59H401.50V741.84H401.77V742.87H402.04V744.15H402.52V745.98H403.28V747.48H403.66V748.62H404.14V750.14H404.73V751.82H405.22V753.36H405.70V755.11H406.40V756.99H407.37V758.49H407.86V759.87H408.93V761.47H410.01V762.65H410.77V763.50H411.41V764.37H412.22V765.41H413.08V766.89H414.27V768.59H414.81V770.08H415.72V771.73H416.37V773.28H417.18V775.10H418.09V776.55H418.58V777.78H419.33V779.01H419.87V780.11H420.57V781.86H422.08V784.00H423.96V785.61H425.15V786.83H426.55V787.93H427.57V789.31H429.24V791.34H431.18V793.02H432.04V794.32H433.34V796.13H435.12V797.90H436.57V799.22H437.65V800.79H439.69V802.83H441.90V804.40H443.20V805.47H444.38V806.78H446.32V808.19H447.83V810.01H450.74V812.37H453.38V814.46H455.32V816.30H457.15V817.96H458.55V819.21H459.52V820.80H461.51V822.47H462.64V823.56H463.56V825.03H465.44V826.77H467.01V828.00H467.98V829.31H469.81V830.91H471.48V832.13H472.56V833.58H474.76V835.55H477.13V837.53H479.45V839.56H481.98V842.02H484.89V843.97H486.35V845.40H488.12V847.09H490.22V849.08H492.70V851.08H494.86V853.21H497.71V854.89H498.90V855.95H500.30V857.08H501.64V858.25H503.15V859.89H505.58V861.57H507.09V862.73H508.22V864.00H509.83V865.55H511.40V867.31H513.28V869.34H515.33V871.12H516.78V872.78H518.72V874.55H520.71V876.02H522.44V877.72H525.51V879.72H528.63V881.79H532.62V883.88H536.44V886.13H540.32V887.85H542.64V889.25H545.66V890.95H549.32V893.05H554.28V894.94H557.51V896.21H560.04V897.58H564.13V899.24H568.66V900.83H572.97V902.53H578.46V903.88H581.21V904.69H583.58V905.79H588.00V907.00H590.48V908.41H594.95V910.31H599.26V911.56H601.36V912.73H607.18V913.96H612.51V915.28H617.90V917.28H622.26V918.91H624.20V920.26H627.49V922.04H632.50V923.86H637.83V925.19H640.90V926.15H644.56V927.30H650.11V928.73H657.01V930.38H661.91V931.67H665.14V932.97H669.45V961.46H665.14V960.53H661.91V959.63H657.01V958.58H650.11V957.79H644.56V957.12H640.90V956.49H637.83V955.58H632.50V954.27H627.49V952.89H624.20V951.79H622.26V950.45H617.90V948.94H612.51V948.15H607.18V947.48H601.36V946.70H599.26V945.76H594.95V944.28H590.48V943.20H588.00V942.34H583.58V941.57H581.21V941.01H578.46V940.06H572.97V938.84H568.66V937.68H564.13V936.45H560.04V935.39H557.51V934.41H554.28V932.90H549.32V931.22H545.66V929.85H542.64V928.70H540.32V927.28H536.44V925.35H532.62V923.01H528.63V920.71H525.51V918.51H522.44V916.66H520.71V915.06H518.72V913.17H516.78V911.40H515.33V909.51H513.28V907.35H511.40V905.48H509.83V903.83H508.22V902.48H507.09V901.24H505.58V899.44H503.15V897.68H501.64V896.42H500.30V895.21H498.90V894.07H497.71V892.27H494.86V889.99H492.70V887.85H490.22V885.73H488.12V883.92H486.35V882.40H484.89V880.32H481.98V877.67H479.45V875.14H477.13V872.67H474.76V870.22H472.56V868.43H471.48V866.92H469.81V864.95H467.98V863.35H467.01V861.87H465.44V859.76H463.56V858.01H462.64V856.71H461.51V854.71H459.52V852.82H458.55V851.33H457.15V849.33H455.32V847.10H453.38V844.57H450.74V841.69H447.83V839.46H446.32V837.73H444.38V836.13H443.20V834.83H441.90V832.92H439.69V830.49H437.65V828.63H436.57V827.07H435.12V825.00H433.34V822.90H432.04V821.40H431.18V819.46H429.24V817.09H427.57V815.46H426.55V813.92H425.15V812.22H423.96V810.04H422.08V807.26H420.57V805.10H419.87V803.76H419.33V802.30H418.58V800.83H418.09V799.13H417.18V796.99H416.37V795.17H415.72V793.23H414.81V791.46H414.27V789.44H413.08V786.90H412.22V784.93H411.41V783.24H410.77V781.62H410.01V779.42H408.93V776.61H407.86V774.36H407.37V772.05H406.40V768.37H405.70V765.30H405.22V762.68H404.73V759.80H404.14V757.08H403.66V754.98H403.28V752.22H402.52V749.01H402.04V746.89H401.77V745.26H401.50V743.35H401.18V740.74H400.75V738.18H400.48V736.96H400.42V734.43H400.10Z" fill="#D95F02" fill-opacity="0.3" stroke="none"/>
</g>
<rect x="386.82" y="722.25" width="295.58" height="274.35" fill="none" stroke="#333333" stroke-width="1.33"/>
<path d="M400.10,996.60V998.30M427.03,996.60V998.30M453.97,996.60V998.30M480.90,996.60V998.30M507.84,996.60V998.30M534.77,996.60V998.30M561.71,996.60V998.30M588.64,996.60V998.30M615.58,996.60V998.30M642.51,996.60V998.30M669.45,996.60V998.30M386.82,984.25H385.12M386.82,921.75H385.12M386.82,859.25H385.12M386.82,796.75H385.12M386.82,734.25H385.12" stroke="#111111" stroke-width="1.7" fill="none"/>
<text x="400.10" y="1006.00" font-size="9.40" fill="#4D4D4D" text-anchor="middle">0</text>
<text x="427.03" y="1006.00" font-size="9.40" fill="#4D4D4D" text-anchor="middle">1</text>
<text x="453.97" y="1006.00" font-size="9.40" fill="#4D4D4D" text-anchor="middle">2</text>
<text x="480.90" y="1006.00" font-size="9.40" fill="#4D4D4D" text-anchor="middle">3</text>
<text x="507.84" y="1006.00" font-size="9.40" fill="#4D4D4D" text-anchor="middle">4</text>
<text x="534.77" y="1006.00" font-size="9.40" fill="#4D4D4D" text-anchor="middle">5</text>
<text x="561.71" y="1006.00" font-size="9.40" fill="#4D4D4D" text-anchor="middle">6</text>
<text x="588.64" y="1006.00" font-size="9.40" fill="#4D4D4D" text-anchor="middle">7</text>
<text x="615.58" y="1006.00" font-size="9.40" fill="#4D4D4D" text-anchor="middle">8</text>
<text x="642.51" y="1006.00" font-size="9.40" fill="#4D4D4D" text-anchor="middle">9</text>
<text x="669.45" y="1006.00" font-size="9.40" fill="#4D4D4D" text-anchor="middle">10</text>
<text x="384.02" y="987.85" font-size="9.40" fill="#4D4D4D" text-anchor="end">0.00</text>
<text x="384.02" y="925.35" font-size="9.40" fill="#4D4D4D" text-anchor="end">0.25</text>
<text x="384.02" y="862.85" font-size="9.40" fill="#4D4D4D" text-anchor="end">0.50</text>
<text x="384.02" y="800.35" font-size="9.40" fill="#4D4D4D" text-anchor="end">0.75</text>
<text x="384.02" y="737.85" font-size="9.40" fill="#4D4D4D" text-anchor="end">1.00</text>
<text x="535.81" y="1026.30" font-size="9.50" fill="#000" text-anchor="middle">Survival time in years</text>
<text x="386.20" y="698.00" font-size="15" font-weight="bold" fill="#000">F</text>
<text x="465.04" y="712.70" font-size="9.30" fill="#000">Treatment:</text>
<rect x="518.86" y="705.30" width="7.20" height="8.40" fill="#1B9E77" fill-opacity="0.3"/>
<rect x="518.86" y="707.00" width="7.20" height="5.00" fill="#1B9E77"/>
<text x="530.46" y="712.70" font-size="9.30" fill="#000">Surgery</text>
<rect x="569.32" y="705.30" width="7.20" height="8.40" fill="#D95F02" fill-opacity="0.3"/>
<rect x="569.32" y="707.00" width="7.20" height="5.00" fill="#D95F02"/>
<text x="580.92" y="712.70" font-size="9.30" fill="#000">Other</text>
</g>
</svg></body></html>
